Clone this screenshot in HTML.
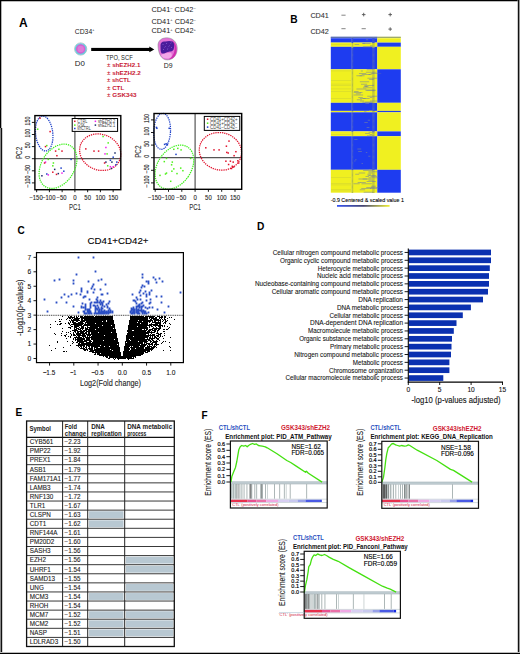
<!DOCTYPE html>
<html><head><meta charset="utf-8"><title>Figure</title>
<style>
html,body{margin:0;padding:0;background:#fff;}
body{width:520px;height:654px;overflow:hidden;}
svg{display:block;font-family:"Liberation Sans",sans-serif;}
</style></head>
<body>
<svg width="520" height="654" viewBox="0 0 520 654">
<rect x="0" y="0" width="520" height="654" fill="#fff"/>
<rect x="0" y="0" width="520" height="1" fill="#000"/>
<rect x="0" y="1" width="520" height="1" fill="#bbb"/>
<rect x="0" y="0" width="1.3" height="128" fill="#000"/>
<rect x="0" y="128" width="1" height="526" fill="#888"/>
<rect x="1" y="128" width="1.2" height="526" fill="#111"/>
<rect x="518" y="0" width="1" height="654" fill="#111"/>
<rect x="519" y="0" width="1" height="654" fill="#999"/>
<rect x="517.5" y="0" width="0.5" height="654" fill="#999"/>
<rect x="0" y="652" width="520" height="1" fill="#bbb"/>
<rect x="0" y="653" width="520" height="1" fill="#000"/>
<text x="19" y="27.3" font-size="12" font-weight="bold">A</text>
<text x="74.8" y="34.1" font-size="6.8" fill="#222">CD34<tspan font-size="3.8" dy="-2.6">+</tspan></text>
<circle cx="80.7" cy="49" r="6.1" fill="none" stroke="#6a8a90" stroke-width="0.5"/>
<circle cx="80.7" cy="49" r="5.3" fill="#d462d0" stroke="#60d0e0" stroke-width="1.1"/>
<circle cx="80.7" cy="49" r="3.2" fill="#e48ee0" opacity="0.6"/>
<text x="74.8" y="65.8" font-size="7.8" fill="#222" textLength="10.1" lengthAdjust="spacingAndGlyphs">D0</text>
<rect x="91.2" y="47.9" width="59" height="3.1" fill="#000"/>
<path d="M149.3 46.6 L154.3 49.45 L149.3 52.3 Z" fill="#000"/>
<text x="106" y="59.9" font-size="6.4" fill="#222" textLength="26.7" lengthAdjust="spacingAndGlyphs">TPO, SCF</text>
<text x="107" y="66.9" font-size="5.8" font-weight="bold" fill="#c81632" textLength="33.4" lengthAdjust="spacingAndGlyphs">± shEZH2.1</text>
<text x="107" y="74.5" font-size="5.8" font-weight="bold" fill="#c81632" textLength="33.8" lengthAdjust="spacingAndGlyphs">± shEZH2.2</text>
<text x="107" y="82.1" font-size="5.8" font-weight="bold" fill="#c81632" textLength="23.7" lengthAdjust="spacingAndGlyphs">± shCTL</text>
<text x="107" y="89.7" font-size="5.8" font-weight="bold" fill="#c81632" textLength="17.2" lengthAdjust="spacingAndGlyphs">± CTL</text>
<text x="107" y="97.3" font-size="5.8" font-weight="bold" fill="#c81632" textLength="29.6" lengthAdjust="spacingAndGlyphs">± GSK343</text>
<text x="151.4" y="11.5" font-size="7.4" fill="#222">CD41<tspan font-size="4" dy="-2.8">–</tspan><tspan dy="2.8"> CD42</tspan><tspan font-size="4" dy="-2.8">–</tspan></text>
<text x="151.4" y="23.6" font-size="7.4" fill="#222">CD41<tspan font-size="4" dy="-2.8">+</tspan><tspan dy="2.8"> CD42</tspan><tspan font-size="4" dy="-2.8">–</tspan></text>
<text x="151.4" y="33.4" font-size="7.4" fill="#222">CD41<tspan font-size="4" dy="-2.8">+</tspan><tspan dy="2.8"> CD42</tspan><tspan font-size="4" dy="-2.8">+</tspan></text>
<path d="M158 46 C157.6 41 161.5 37.8 166.5 37.8 C172 37.6 176.8 41.5 177.2 47.5 C177.6 54 174 59.8 167.5 59.9 C161.5 60 158.4 54 158 46 Z" fill="#e472d8" stroke="#7a8a88" stroke-width="0.5"/>
<path d="M171 40 C175.5 42 177 47 176.5 51.5 C176 56 173 59 168.5 59.6 C172.5 57 175 53 174.5 47 C174.2 43.5 173 41.5 171 40 Z" fill="#d030b0"/>
<path d="M161 55 C163 53.5 167 53 171 52.8 C173 55.5 171 58.6 167 58.6 C164 58.6 162 57.3 161 55 Z" fill="#f2a6e8"/>
<path d="M160.5 46 C160.2 42.5 162.5 41 165.5 41.6 C167.5 40.8 170.5 40.6 172.6 41.6 C174.6 43 174.5 47 173.6 49.6 C172.5 51.8 169.5 51.6 167 52.2 C165 53 163 54.3 161.5 53.2 C160.4 51.8 160.6 48.5 160.5 46 Z" fill="#4a1c9c"/>
<path d="M162.5 45 l1 -1 M164.5 47.5 l1.2 -1.2 M166 44 l1 -1 M168.5 46.5 l1.2 -1 M170.5 43.5 l1 -0.8 M163 50 l1 -1 M167 49.5 l1.2 -1 M171 48 l1 -1" stroke="#8a6ad8" stroke-width="0.7" fill="none"/>
<text x="163.8" y="67.5" font-size="7.8" fill="#222" textLength="8.8" lengthAdjust="spacingAndGlyphs">D9</text>
<line x1="74.9" y1="115.6" x2="74.9" y2="189.7" stroke="#555" stroke-width="1.2"/>
<line x1="34.9" y1="158.7" x2="120.8" y2="158.7" stroke="#555" stroke-width="1.2"/>
<ellipse cx="44.2" cy="133.5" rx="8.6" ry="17.5" transform="rotate(-6 44.2 133.5)" fill="none" stroke="#1c3fc8" stroke-width="1.25" stroke-dasharray="1.3 0.9"/>
<ellipse cx="58" cy="166.3" rx="16.5" ry="24" transform="rotate(32 58 166.3)" fill="none" stroke="#3cf01a" stroke-width="1.25" stroke-dasharray="1.3 0.9"/>
<ellipse cx="100.2" cy="152.2" rx="21" ry="17.8" transform="rotate(22 100.2 152.2)" fill="none" stroke="#e0102a" stroke-width="1.25" stroke-dasharray="1.3 0.9"/>
<rect x="39.25" y="117.45" width="1.5" height="1.5" fill="#e0102a"/>
<rect x="36.95" y="128.45" width="1.5" height="1.5" fill="#4ef01a"/>
<rect x="49.35" y="130.85" width="1.5" height="1.5" fill="#e0102a"/>
<rect x="46.05" y="144.85" width="1.5" height="1.5" fill="#4ef01a"/>
<rect x="44.75" y="145.85" width="1.5" height="1.5" fill="#e0102a"/>
<rect x="58.15" y="148.55" width="1.5" height="1.5" fill="#4ef01a"/>
<rect x="54.85" y="150.35" width="1.5" height="1.5" fill="#e0102a"/>
<rect x="61.25" y="150.35" width="1.5" height="1.5" fill="#e0102a"/>
<rect x="56.15" y="154.95" width="1.5" height="1.5" fill="#e0102a"/>
<rect x="70.35" y="158.65" width="1.5" height="1.5" fill="#1c3fc8"/>
<rect x="44.75" y="161.35" width="1.5" height="1.5" fill="#f020f0"/>
<rect x="43.85" y="162.25" width="1.5" height="1.5" fill="#e0102a"/>
<rect x="47.55" y="158.65" width="1.5" height="1.5" fill="#4ef01a"/>
<rect x="52.65" y="162.25" width="1.5" height="1.5" fill="#4ef01a"/>
<rect x="52.05" y="165.05" width="1.5" height="1.5" fill="#4ef01a"/>
<rect x="53.95" y="168.65" width="1.5" height="1.5" fill="#1a2a6a"/>
<rect x="60.35" y="167.35" width="1.5" height="1.5" fill="#1c3fc8"/>
<rect x="63.05" y="170.45" width="1.5" height="1.5" fill="#1c3fc8"/>
<rect x="52.05" y="171.45" width="1.5" height="1.5" fill="#e0102a"/>
<rect x="57.55" y="172.85" width="1.5" height="1.5" fill="#1a2a6a"/>
<rect x="55.75" y="173.65" width="1.5" height="1.5" fill="#e0102a"/>
<rect x="61.25" y="172.35" width="1.5" height="1.5" fill="#f020f0"/>
<rect x="46.05" y="173.25" width="1.5" height="1.5" fill="#1c3fc8"/>
<rect x="47.55" y="174.15" width="1.5" height="1.5" fill="#f020f0"/>
<rect x="41.15" y="175.05" width="1.5" height="1.5" fill="#1a2a6a"/>
<rect x="102.35" y="135.75" width="1.5" height="1.5" fill="#4ef01a"/>
<rect x="107.45" y="142.15" width="1.5" height="1.5" fill="#4ef01a"/>
<rect x="105.15" y="146.75" width="1.5" height="1.5" fill="#f020f0"/>
<rect x="85.05" y="148.15" width="1.5" height="1.5" fill="#e0102a"/>
<rect x="93.25" y="150.35" width="1.5" height="1.5" fill="#e0102a"/>
<rect x="97.85" y="150.35" width="1.5" height="1.5" fill="#e0102a"/>
<rect x="104.25" y="153.15" width="1.5" height="1.5" fill="#f020f0"/>
<rect x="106.35" y="153.15" width="1.5" height="1.5" fill="#4ef01a"/>
<rect x="114.25" y="152.25" width="1.5" height="1.5" fill="#1a2a6a"/>
<rect x="112.45" y="156.45" width="1.5" height="1.5" fill="#1c3fc8"/>
<rect x="105.15" y="161.35" width="1.5" height="1.5" fill="#1a2a6a"/>
<rect x="103.85" y="162.25" width="1.5" height="1.5" fill="#e0102a"/>
<rect x="109.65" y="159.55" width="1.5" height="1.5" fill="#1c3fc8"/>
<rect x="111.15" y="161.35" width="1.5" height="1.5" fill="#1a2a6a"/>
<rect x="116.05" y="161.35" width="1.5" height="1.5" fill="#1c3fc8"/>
<rect x="106.95" y="165.05" width="1.5" height="1.5" fill="#4ef01a"/>
<rect x="109.65" y="165.95" width="1.5" height="1.5" fill="#f020f0"/>
<rect x="112.45" y="165.95" width="1.5" height="1.5" fill="#f020f0"/>
<rect x="110.65" y="167.75" width="1.5" height="1.5" fill="#1a2a6a"/>
<rect x="115.15" y="164.05" width="1.5" height="1.5" fill="#1c3fc8"/>
<rect x="34.9" y="115.6" width="85.9" height="74.1" fill="none" stroke="#000" stroke-width="1.4"/>
<line x1="36.65" y1="189.7" x2="36.65" y2="192.2" stroke="#000" stroke-width="0.9"/>
<text x="36.05" y="200" font-size="6.4" text-anchor="middle" fill="#222" stroke="#222" stroke-width="0.1" textLength="13.3" lengthAdjust="spacingAndGlyphs">−150</text>
<line x1="49.4" y1="189.7" x2="49.4" y2="192.2" stroke="#000" stroke-width="0.9"/>
<text x="48.8" y="200" font-size="6.4" text-anchor="middle" fill="#222" stroke="#222" stroke-width="0.1" textLength="13.3" lengthAdjust="spacingAndGlyphs">−100</text>
<line x1="62.15" y1="189.7" x2="62.15" y2="192.2" stroke="#000" stroke-width="0.9"/>
<text x="61.55" y="200" font-size="6.4" text-anchor="middle" fill="#222" stroke="#222" stroke-width="0.1" textLength="10" lengthAdjust="spacingAndGlyphs">−50</text>
<line x1="74.9" y1="189.7" x2="74.9" y2="192.2" stroke="#000" stroke-width="0.9"/>
<text x="74.9" y="200" font-size="6.4" text-anchor="middle" fill="#222" stroke="#222" stroke-width="0.1" textLength="3.4" lengthAdjust="spacingAndGlyphs">0</text>
<line x1="87.65" y1="189.7" x2="87.65" y2="192.2" stroke="#000" stroke-width="0.9"/>
<text x="87.65" y="200" font-size="6.4" text-anchor="middle" fill="#222" stroke="#222" stroke-width="0.1" textLength="6.6" lengthAdjust="spacingAndGlyphs">50</text>
<line x1="100.4" y1="189.7" x2="100.4" y2="192.2" stroke="#000" stroke-width="0.9"/>
<text x="100.4" y="200" font-size="6.4" text-anchor="middle" fill="#222" stroke="#222" stroke-width="0.1" textLength="10" lengthAdjust="spacingAndGlyphs">100</text>
<line x1="113.15" y1="189.7" x2="113.15" y2="192.2" stroke="#000" stroke-width="0.9"/>
<text x="113.15" y="200" font-size="6.4" text-anchor="middle" fill="#222" stroke="#222" stroke-width="0.1" textLength="10" lengthAdjust="spacingAndGlyphs">150</text>
<line x1="31.9" y1="182.9" x2="34.9" y2="182.9" stroke="#000" stroke-width="0.9"/>
<text transform="translate(29.8 181.5) rotate(-90)" x="0" y="0" font-size="6.5" text-anchor="middle" fill="#222" stroke="#222" stroke-width="0.1" textLength="11.8" lengthAdjust="spacingAndGlyphs">−100</text>
<line x1="31.9" y1="170.8" x2="34.9" y2="170.8" stroke="#000" stroke-width="0.9"/>
<text transform="translate(29.8 169.4) rotate(-90)" x="0" y="0" font-size="6.5" text-anchor="middle" fill="#222" stroke="#222" stroke-width="0.1" textLength="8.85" lengthAdjust="spacingAndGlyphs">−50</text>
<line x1="31.9" y1="158.7" x2="34.9" y2="158.7" stroke="#000" stroke-width="0.9"/>
<text transform="translate(29.8 157.3) rotate(-90)" x="0" y="0" font-size="6.5" text-anchor="middle" fill="#222" stroke="#222" stroke-width="0.1" textLength="2.95" lengthAdjust="spacingAndGlyphs">0</text>
<line x1="31.9" y1="146.6" x2="34.9" y2="146.6" stroke="#000" stroke-width="0.9"/>
<text transform="translate(29.8 145.2) rotate(-90)" x="0" y="0" font-size="6.5" text-anchor="middle" fill="#222" stroke="#222" stroke-width="0.1" textLength="5.9" lengthAdjust="spacingAndGlyphs">50</text>
<line x1="31.9" y1="134.5" x2="34.9" y2="134.5" stroke="#000" stroke-width="0.9"/>
<text transform="translate(29.8 133.1) rotate(-90)" x="0" y="0" font-size="6.5" text-anchor="middle" fill="#222" stroke="#222" stroke-width="0.1" textLength="8.85" lengthAdjust="spacingAndGlyphs">100</text>
<line x1="31.9" y1="122.4" x2="34.9" y2="122.4" stroke="#000" stroke-width="0.9"/>
<text transform="translate(29.8 121) rotate(-90)" x="0" y="0" font-size="6.5" text-anchor="middle" fill="#222" stroke="#222" stroke-width="0.1" textLength="8.85" lengthAdjust="spacingAndGlyphs">150</text>
<text x="74.9" y="209.5" font-size="9.6" text-anchor="middle" fill="#333" stroke="#333" stroke-width="0.1" textLength="11.8" lengthAdjust="spacingAndGlyphs">PC1</text>
<text transform="translate(22.2 152.95) rotate(-90)" x="0" y="0" font-size="9.8" text-anchor="middle" fill="#333" stroke="#333" stroke-width="0.1" textLength="12.3" lengthAdjust="spacingAndGlyphs">PC2</text>
<rect x="72.2" y="118.5" width="45.4" height="12.9" fill="#fff" stroke="#000" stroke-width="1"/>
<rect x="74.05" y="120.55" width="1.5" height="1.5" fill="#e0102a"/>
<text x="77.3" y="122.9" font-size="4.6" fill="#444" textLength="10" lengthAdjust="spacingAndGlyphs">CTRL</text>
<rect x="74.05" y="124.35" width="1.5" height="1.5" fill="#4ef01a"/>
<text x="77.3" y="126.7" font-size="4.6" fill="#444" textLength="7.7" lengthAdjust="spacingAndGlyphs">GSK</text>
<rect x="74.05" y="127.75" width="1.5" height="1.5" fill="#1c3fc8"/>
<text x="77.3" y="130.1" font-size="4.6" fill="#444" textLength="13.5" lengthAdjust="spacingAndGlyphs">shCTRL</text>
<rect x="94.65" y="120.55" width="1.5" height="1.5" fill="#f020f0"/>
<text x="97.9" y="122.9" font-size="4.6" fill="#444" textLength="17.3" lengthAdjust="spacingAndGlyphs">shEZH2.2</text>
<rect x="94.65" y="124.35" width="1.5" height="1.5" fill="#1a2a6a"/>
<text x="97.9" y="126.7" font-size="4.6" fill="#444" textLength="17.3" lengthAdjust="spacingAndGlyphs">shEZH2.1</text>
<line x1="195.1" y1="113.5" x2="195.1" y2="189.3" stroke="#555" stroke-width="1.2"/>
<line x1="154" y1="157.7" x2="241.7" y2="157.7" stroke="#555" stroke-width="1.2"/>
<ellipse cx="162.1" cy="131.3" rx="8.4" ry="18" transform="rotate(3 162.1 131.3)" fill="none" stroke="#1c3fc8" stroke-width="1.25" stroke-dasharray="1.3 0.9"/>
<ellipse cx="174.4" cy="167.1" rx="16.8" ry="24" transform="rotate(34 174.4 167.1)" fill="none" stroke="#3cf01a" stroke-width="1.25" stroke-dasharray="1.3 0.9"/>
<ellipse cx="220.4" cy="151.3" rx="21.3" ry="18.6" transform="rotate(15 220.4 151.3)" fill="none" stroke="#e0102a" stroke-width="1.25" stroke-dasharray="1.3 0.9"/>
<rect x="155.65" y="126.65" width="1.5" height="1.5" fill="#1c3fc8"/>
<rect x="156.15" y="127.55" width="1.5" height="1.5" fill="#1c3fc8"/>
<rect x="168.45" y="127.55" width="1.5" height="1.5" fill="#1c3fc8"/>
<rect x="163.85" y="143.65" width="1.5" height="1.5" fill="#1c3fc8"/>
<rect x="165.35" y="143.05" width="1.5" height="1.5" fill="#1c3fc8"/>
<rect x="166.65" y="143.95" width="1.5" height="1.5" fill="#1c3fc8"/>
<rect x="175.25" y="153.65" width="1.5" height="1.5" fill="#1c3fc8"/>
<rect x="173.05" y="148.55" width="1.5" height="1.5" fill="#4ef01a"/>
<rect x="177.05" y="147.65" width="1.5" height="1.5" fill="#4ef01a"/>
<rect x="180.35" y="149.15" width="1.5" height="1.5" fill="#4ef01a"/>
<rect x="165.75" y="157.65" width="1.5" height="1.5" fill="#4ef01a"/>
<rect x="163.55" y="160.85" width="1.5" height="1.5" fill="#4ef01a"/>
<rect x="171.55" y="161.35" width="1.5" height="1.5" fill="#4ef01a"/>
<rect x="170.85" y="164.05" width="1.5" height="1.5" fill="#4ef01a"/>
<rect x="173.05" y="168.15" width="1.5" height="1.5" fill="#4ef01a"/>
<rect x="171.15" y="170.45" width="1.5" height="1.5" fill="#4ef01a"/>
<rect x="165.75" y="172.35" width="1.5" height="1.5" fill="#4ef01a"/>
<rect x="159.25" y="174.65" width="1.5" height="1.5" fill="#4ef01a"/>
<rect x="176.25" y="172.85" width="1.5" height="1.5" fill="#4ef01a"/>
<rect x="179.95" y="167.35" width="1.5" height="1.5" fill="#4ef01a"/>
<rect x="182.15" y="169.95" width="1.5" height="1.5" fill="#4ef01a"/>
<rect x="169.95" y="180.55" width="1.5" height="1.5" fill="#4ef01a"/>
<rect x="189.85" y="157.65" width="1.5" height="1.5" fill="#4ef01a"/>
<rect x="164.75" y="173.25" width="1.5" height="1.5" fill="#4ef01a"/>
<rect x="205.05" y="147.05" width="1.5" height="1.5" fill="#e0102a"/>
<rect x="213.25" y="149.15" width="1.5" height="1.5" fill="#e0102a"/>
<rect x="218.35" y="149.15" width="1.5" height="1.5" fill="#e0102a"/>
<rect x="228.25" y="140.35" width="1.5" height="1.5" fill="#e0102a"/>
<rect x="225.65" y="145.45" width="1.5" height="1.5" fill="#e0102a"/>
<rect x="226.05" y="151.65" width="1.5" height="1.5" fill="#e0102a"/>
<rect x="227.45" y="152.25" width="1.5" height="1.5" fill="#e0102a"/>
<rect x="235.15" y="150.95" width="1.5" height="1.5" fill="#e0102a"/>
<rect x="233.35" y="154.95" width="1.5" height="1.5" fill="#e0102a"/>
<rect x="225.15" y="160.45" width="1.5" height="1.5" fill="#e0102a"/>
<rect x="229.65" y="160.45" width="1.5" height="1.5" fill="#e0102a"/>
<rect x="232.45" y="161.35" width="1.5" height="1.5" fill="#e0102a"/>
<rect x="237.05" y="160.05" width="1.5" height="1.5" fill="#e0102a"/>
<rect x="227.85" y="163.75" width="1.5" height="1.5" fill="#e0102a"/>
<rect x="231.55" y="165.55" width="1.5" height="1.5" fill="#e0102a"/>
<rect x="232.95" y="166.25" width="1.5" height="1.5" fill="#e0102a"/>
<rect x="237.95" y="162.25" width="1.5" height="1.5" fill="#e0102a"/>
<rect x="230.75" y="167.75" width="1.5" height="1.5" fill="#e0102a"/>
<rect x="154" y="113.5" width="87.7" height="75.8" fill="none" stroke="#000" stroke-width="1.4"/>
<line x1="155.2" y1="189.3" x2="155.2" y2="191.8" stroke="#000" stroke-width="0.9"/>
<text x="154.6" y="200" font-size="6.4" text-anchor="middle" fill="#222" stroke="#222" stroke-width="0.1" textLength="13.3" lengthAdjust="spacingAndGlyphs">−150</text>
<line x1="168.5" y1="189.3" x2="168.5" y2="191.8" stroke="#000" stroke-width="0.9"/>
<text x="167.9" y="200" font-size="6.4" text-anchor="middle" fill="#222" stroke="#222" stroke-width="0.1" textLength="13.3" lengthAdjust="spacingAndGlyphs">−100</text>
<line x1="181.8" y1="189.3" x2="181.8" y2="191.8" stroke="#000" stroke-width="0.9"/>
<text x="181.2" y="200" font-size="6.4" text-anchor="middle" fill="#222" stroke="#222" stroke-width="0.1" textLength="10" lengthAdjust="spacingAndGlyphs">−50</text>
<line x1="195.1" y1="189.3" x2="195.1" y2="191.8" stroke="#000" stroke-width="0.9"/>
<text x="195.1" y="200" font-size="6.4" text-anchor="middle" fill="#222" stroke="#222" stroke-width="0.1" textLength="3.4" lengthAdjust="spacingAndGlyphs">0</text>
<line x1="208.4" y1="189.3" x2="208.4" y2="191.8" stroke="#000" stroke-width="0.9"/>
<text x="208.4" y="200" font-size="6.4" text-anchor="middle" fill="#222" stroke="#222" stroke-width="0.1" textLength="6.6" lengthAdjust="spacingAndGlyphs">50</text>
<line x1="221.7" y1="189.3" x2="221.7" y2="191.8" stroke="#000" stroke-width="0.9"/>
<text x="221.7" y="200" font-size="6.4" text-anchor="middle" fill="#222" stroke="#222" stroke-width="0.1" textLength="10" lengthAdjust="spacingAndGlyphs">100</text>
<line x1="235" y1="189.3" x2="235" y2="191.8" stroke="#000" stroke-width="0.9"/>
<text x="235" y="200" font-size="6.4" text-anchor="middle" fill="#222" stroke="#222" stroke-width="0.1" textLength="10" lengthAdjust="spacingAndGlyphs">150</text>
<line x1="151" y1="182.9" x2="154" y2="182.9" stroke="#000" stroke-width="0.9"/>
<text transform="translate(148.9 181.5) rotate(-90)" x="0" y="0" font-size="6.5" text-anchor="middle" fill="#222" stroke="#222" stroke-width="0.1" textLength="11.8" lengthAdjust="spacingAndGlyphs">−100</text>
<line x1="151" y1="170.3" x2="154" y2="170.3" stroke="#000" stroke-width="0.9"/>
<text transform="translate(148.9 168.9) rotate(-90)" x="0" y="0" font-size="6.5" text-anchor="middle" fill="#222" stroke="#222" stroke-width="0.1" textLength="8.85" lengthAdjust="spacingAndGlyphs">−50</text>
<line x1="151" y1="157.7" x2="154" y2="157.7" stroke="#000" stroke-width="0.9"/>
<text transform="translate(148.9 156.3) rotate(-90)" x="0" y="0" font-size="6.5" text-anchor="middle" fill="#222" stroke="#222" stroke-width="0.1" textLength="2.95" lengthAdjust="spacingAndGlyphs">0</text>
<line x1="151" y1="145.1" x2="154" y2="145.1" stroke="#000" stroke-width="0.9"/>
<text transform="translate(148.9 143.7) rotate(-90)" x="0" y="0" font-size="6.5" text-anchor="middle" fill="#222" stroke="#222" stroke-width="0.1" textLength="5.9" lengthAdjust="spacingAndGlyphs">50</text>
<line x1="151" y1="132.5" x2="154" y2="132.5" stroke="#000" stroke-width="0.9"/>
<text transform="translate(148.9 131.1) rotate(-90)" x="0" y="0" font-size="6.5" text-anchor="middle" fill="#222" stroke="#222" stroke-width="0.1" textLength="8.85" lengthAdjust="spacingAndGlyphs">100</text>
<line x1="151" y1="119.9" x2="154" y2="119.9" stroke="#000" stroke-width="0.9"/>
<text transform="translate(148.9 118.5) rotate(-90)" x="0" y="0" font-size="6.5" text-anchor="middle" fill="#222" stroke="#222" stroke-width="0.1" textLength="8.85" lengthAdjust="spacingAndGlyphs">150</text>
<text x="195.1" y="209.5" font-size="9.6" text-anchor="middle" fill="#333" stroke="#333" stroke-width="0.1" textLength="11.8" lengthAdjust="spacingAndGlyphs">PC1</text>
<text transform="translate(140.8 151.7) rotate(-90)" x="0" y="0" font-size="9.8" text-anchor="middle" fill="#333" stroke="#333" stroke-width="0.1" textLength="12.3" lengthAdjust="spacingAndGlyphs">PC2</text>
<rect x="204.3" y="116.4" width="35.5" height="14" fill="#fff" stroke="#000" stroke-width="1"/>
<rect x="206.85" y="118.45" width="1.5" height="1.5" fill="#e0102a"/>
<text x="210.1" y="120.8" font-size="5" fill="#444" textLength="27.5" lengthAdjust="spacingAndGlyphs">CD41+CD42+</text>
<rect x="206.85" y="122.45" width="1.5" height="1.5" fill="#4ef01a"/>
<text x="210.1" y="124.8" font-size="5" fill="#444" textLength="27.5" lengthAdjust="spacingAndGlyphs">CD41+CD42−</text>
<rect x="206.85" y="126.35" width="1.5" height="1.5" fill="#1c3fc8"/>
<text x="210.1" y="128.7" font-size="5" fill="#444" textLength="27.5" lengthAdjust="spacingAndGlyphs">CD41−CD42−</text>
<text x="290.2" y="23.3" font-size="10.2" font-weight="bold">B</text>
<text x="310.4" y="18.2" font-size="8" fill="#333" stroke="#333" stroke-width="0.1" textLength="18.4" lengthAdjust="spacingAndGlyphs">CD41</text>
<text x="310.4" y="34" font-size="8" fill="#333" stroke="#333" stroke-width="0.1" textLength="18.4" lengthAdjust="spacingAndGlyphs">CD42</text>
<line x1="341.4" y1="15.2" x2="345.6" y2="15.2" stroke="#777" stroke-width="0.9"/>
<line x1="361.9" y1="14.6" x2="365.5" y2="14.6" stroke="#555" stroke-width="0.9"/>
<line x1="363.7" y1="12.8" x2="363.7" y2="16.4" stroke="#555" stroke-width="0.9"/>
<line x1="388.4" y1="14.6" x2="392" y2="14.6" stroke="#555" stroke-width="0.9"/>
<line x1="390.2" y1="12.8" x2="390.2" y2="16.4" stroke="#555" stroke-width="0.9"/>
<line x1="341.4" y1="28.7" x2="345.6" y2="28.7" stroke="#777" stroke-width="0.9"/>
<line x1="361.6" y1="28.7" x2="365.8" y2="28.7" stroke="#777" stroke-width="0.9"/>
<line x1="388.4" y1="29.1" x2="392" y2="29.1" stroke="#555" stroke-width="0.9"/>
<line x1="390.2" y1="27.3" x2="390.2" y2="30.9" stroke="#555" stroke-width="0.9"/>
<rect x="330.8" y="36.8" width="20.4" height="1.5" fill="#1e3cf0"/>
<rect x="351.2" y="36.8" width="26.1" height="1.5" fill="#1e3cf0"/>
<rect x="377.3" y="36.8" width="23.5" height="1.5" fill="#f0f020"/>
<rect x="330.8" y="38.3" width="20.4" height="4.3" fill="#1e3cf0"/>
<rect x="351.2" y="38.3" width="26.1" height="4.3" fill="#1e3cf0"/>
<rect x="377.3" y="38.3" width="23.5" height="4.3" fill="#f0f020"/>
<rect x="330.8" y="42.6" width="20.4" height="4.2" fill="#f0f020"/>
<rect x="351.2" y="42.6" width="26.1" height="4.2" fill="#f0f020"/>
<rect x="377.3" y="42.6" width="23.5" height="4.2" fill="#1e3cf0"/>
<rect x="330.8" y="46.8" width="20.4" height="22.5" fill="#1e3cf0"/>
<rect x="351.2" y="46.8" width="26.1" height="22.5" fill="#1e3cf0"/>
<rect x="377.3" y="46.8" width="23.5" height="22.5" fill="#f0f020"/>
<rect x="330.8" y="69.3" width="20.4" height="33.5" fill="#f0f020"/>
<rect x="351.2" y="69.3" width="26.1" height="33.5" fill="#f0f020"/>
<rect x="377.3" y="69.3" width="23.5" height="33.5" fill="#1e3cf0"/>
<rect x="330.8" y="102.8" width="20.4" height="8.1" fill="#1e3cf0"/>
<rect x="351.2" y="102.8" width="26.1" height="8.1" fill="#1e3cf0"/>
<rect x="377.3" y="102.8" width="23.5" height="8.1" fill="#f0f020"/>
<rect x="330.8" y="110.9" width="20.4" height="1.4" fill="#f0f020"/>
<rect x="351.2" y="110.9" width="26.1" height="1.4" fill="#f0f020"/>
<rect x="377.3" y="110.9" width="23.5" height="1.4" fill="#1e3cf0"/>
<rect x="330.8" y="112.3" width="20.4" height="19.1" fill="#1e3cf0"/>
<rect x="351.2" y="112.3" width="26.1" height="19.1" fill="#1e3cf0"/>
<rect x="377.3" y="112.3" width="23.5" height="19.1" fill="#f0f020"/>
<rect x="330.8" y="131.4" width="20.4" height="4.8" fill="#f0f020"/>
<rect x="351.2" y="131.4" width="26.1" height="4.8" fill="#f0f020"/>
<rect x="377.3" y="131.4" width="23.5" height="4.8" fill="#1e3cf0"/>
<rect x="330.8" y="136.2" width="20.4" height="33.6" fill="#1e3cf0"/>
<rect x="351.2" y="136.2" width="26.1" height="33.6" fill="#1e3cf0"/>
<rect x="377.3" y="136.2" width="23.5" height="33.6" fill="#f0f020"/>
<rect x="330.8" y="169.8" width="20.4" height="22.9" fill="#f0f020"/>
<rect x="351.2" y="169.8" width="26.1" height="22.9" fill="#f0f020"/>
<rect x="377.3" y="169.8" width="23.5" height="22.9" fill="#1e3cf0"/>
<rect x="351.6" y="37" width="1.6" height="1.2" fill="#4058d0"/>
<rect x="372.2" y="37" width="2.4" height="1.2" fill="#4058d0"/>
<rect x="351.6" y="38.2" width="1.6" height="1.2" fill="#4058d0"/>
<rect x="372.2" y="38.2" width="2.4" height="1.2" fill="#4058d0"/>
<rect x="351.6" y="39.4" width="1.6" height="1.2" fill="#4058d0"/>
<rect x="372.2" y="39.4" width="2.4" height="1.2" fill="#4058d0"/>
<rect x="365.88" y="39.4" width="2.32" height="0.8" fill="#b0b070" opacity="0.45"/>
<rect x="351.6" y="40.6" width="1.6" height="1.2" fill="#4058d0"/>
<rect x="372.2" y="40.6" width="2.4" height="1.2" fill="#4058d0"/>
<rect x="351.6" y="41.8" width="1.6" height="1.2" fill="#4058d0"/>
<rect x="372.2" y="41.8" width="2.4" height="1.2" fill="#4058d0"/>
<rect x="351.6" y="43" width="1.6" height="1.2" fill="#b8c040"/>
<rect x="372.2" y="43" width="2.4" height="1.2" fill="#b8c040"/>
<rect x="362.42" y="43" width="2.65" height="0.8" fill="#5868b8" opacity="0.55"/>
<rect x="362.4" y="43" width="8.11" height="0.8" fill="#5868b8" opacity="0.55"/>
<rect x="351.6" y="44.2" width="1.6" height="1.2" fill="#b8c040"/>
<rect x="372.2" y="44.2" width="2.4" height="1.2" fill="#b8c040"/>
<rect x="354.59" y="44.2" width="4.59" height="0.8" fill="#5868b8" opacity="0.55"/>
<rect x="331" y="44.2" width="20" height="0.6" fill="#a0a850" opacity="0.35"/>
<rect x="351.6" y="45.4" width="1.6" height="1.2" fill="#b8c040"/>
<rect x="372.2" y="45.4" width="2.4" height="1.2" fill="#b8c040"/>
<rect x="370.16" y="45.4" width="2.22" height="0.8" fill="#5868b8" opacity="0.55"/>
<rect x="351.6" y="46.6" width="1.6" height="1.2" fill="#b8c040"/>
<rect x="372.2" y="46.6" width="2.4" height="1.2" fill="#b8c040"/>
<rect x="363.27" y="46.6" width="10.18" height="0.8" fill="#5868b8" opacity="0.55"/>
<rect x="362.82" y="46.6" width="8.75" height="0.8" fill="#5868b8" opacity="0.55"/>
<rect x="351.6" y="47.8" width="1.6" height="1.2" fill="#4058d0"/>
<rect x="372.2" y="47.8" width="2.4" height="1.2" fill="#4058d0"/>
<rect x="351.6" y="49" width="1.6" height="1.2" fill="#4058d0"/>
<rect x="372.2" y="49" width="2.4" height="1.2" fill="#4058d0"/>
<rect x="351.6" y="50.2" width="1.6" height="1.2" fill="#4058d0"/>
<rect x="372.2" y="50.2" width="2.4" height="1.2" fill="#4058d0"/>
<rect x="351.6" y="51.4" width="1.6" height="1.2" fill="#4058d0"/>
<rect x="372.2" y="51.4" width="2.4" height="1.2" fill="#4058d0"/>
<rect x="351.6" y="52.6" width="1.6" height="1.2" fill="#4058d0"/>
<rect x="372.2" y="52.6" width="2.4" height="1.2" fill="#4058d0"/>
<rect x="351.6" y="53.8" width="1.6" height="1.2" fill="#4058d0"/>
<rect x="372.2" y="53.8" width="2.4" height="1.2" fill="#4058d0"/>
<rect x="351.6" y="55" width="1.6" height="1.2" fill="#4058d0"/>
<rect x="372.2" y="55" width="2.4" height="1.2" fill="#4058d0"/>
<rect x="351.6" y="56.2" width="1.6" height="1.2" fill="#4058d0"/>
<rect x="372.2" y="56.2" width="2.4" height="1.2" fill="#4058d0"/>
<rect x="351.6" y="57.4" width="1.6" height="1.2" fill="#4058d0"/>
<rect x="372.2" y="57.4" width="2.4" height="1.2" fill="#4058d0"/>
<rect x="351.6" y="58.6" width="1.6" height="1.2" fill="#4058d0"/>
<rect x="372.2" y="58.6" width="2.4" height="1.2" fill="#4058d0"/>
<rect x="351.6" y="59.8" width="1.6" height="1.2" fill="#4058d0"/>
<rect x="372.2" y="59.8" width="2.4" height="1.2" fill="#4058d0"/>
<rect x="351.6" y="61" width="1.6" height="1.2" fill="#4058d0"/>
<rect x="372.2" y="61" width="2.4" height="1.2" fill="#4058d0"/>
<rect x="351.6" y="62.2" width="1.6" height="1.2" fill="#4058d0"/>
<rect x="372.2" y="62.2" width="2.4" height="1.2" fill="#4058d0"/>
<rect x="351.6" y="63.4" width="1.6" height="1.2" fill="#4058d0"/>
<rect x="372.2" y="63.4" width="2.4" height="1.2" fill="#4058d0"/>
<rect x="351.6" y="64.6" width="1.6" height="1.2" fill="#4058d0"/>
<rect x="372.2" y="64.6" width="2.4" height="1.2" fill="#4058d0"/>
<rect x="351.6" y="65.8" width="1.6" height="1.2" fill="#4058d0"/>
<rect x="372.2" y="65.8" width="2.4" height="1.2" fill="#4058d0"/>
<rect x="351.6" y="67" width="1.6" height="1.2" fill="#4058d0"/>
<rect x="372.2" y="67" width="2.4" height="1.2" fill="#4058d0"/>
<rect x="351.6" y="68.2" width="1.6" height="1.2" fill="#4058d0"/>
<rect x="372.2" y="68.2" width="2.4" height="1.2" fill="#4058d0"/>
<rect x="351.6" y="69.4" width="1.6" height="1.2" fill="#b8c040"/>
<rect x="372.2" y="69.4" width="2.4" height="1.2" fill="#b8c040"/>
<rect x="366.74" y="69.4" width="5.8" height="0.8" fill="#5868b8" opacity="0.55"/>
<rect x="351.6" y="70.6" width="1.6" height="1.2" fill="#b8c040"/>
<rect x="372.2" y="70.6" width="2.4" height="1.2" fill="#b8c040"/>
<rect x="360.87" y="70.6" width="2.01" height="0.8" fill="#5868b8" opacity="0.55"/>
<rect x="331" y="70.6" width="20" height="0.6" fill="#a0a850" opacity="0.35"/>
<rect x="351.6" y="71.8" width="1.6" height="1.2" fill="#b8c040"/>
<rect x="372.2" y="71.8" width="2.4" height="1.2" fill="#b8c040"/>
<rect x="365.93" y="71.8" width="10.6" height="0.8" fill="#5868b8" opacity="0.55"/>
<rect x="351.6" y="73" width="1.6" height="1.2" fill="#b8c040"/>
<rect x="372.2" y="73" width="2.4" height="1.2" fill="#b8c040"/>
<rect x="358.96" y="73" width="7.33" height="0.8" fill="#5868b8" opacity="0.55"/>
<rect x="370.77" y="73" width="10.51" height="0.8" fill="#5868b8" opacity="0.55"/>
<rect x="351.6" y="74.2" width="1.6" height="1.2" fill="#b8c040"/>
<rect x="372.2" y="74.2" width="2.4" height="1.2" fill="#b8c040"/>
<rect x="368.55" y="74.2" width="3.18" height="0.8" fill="#5868b8" opacity="0.55"/>
<rect x="361.73" y="74.2" width="8.68" height="0.8" fill="#5868b8" opacity="0.55"/>
<rect x="351.6" y="75.4" width="1.6" height="1.2" fill="#b8c040"/>
<rect x="372.2" y="75.4" width="2.4" height="1.2" fill="#b8c040"/>
<rect x="359.58" y="75.4" width="4.92" height="0.8" fill="#5868b8" opacity="0.55"/>
<rect x="356.38" y="75.4" width="5.73" height="0.8" fill="#5868b8" opacity="0.55"/>
<rect x="351.6" y="76.6" width="1.6" height="1.2" fill="#b8c040"/>
<rect x="372.2" y="76.6" width="2.4" height="1.2" fill="#b8c040"/>
<rect x="351.6" y="77.8" width="1.6" height="1.2" fill="#b8c040"/>
<rect x="372.2" y="77.8" width="2.4" height="1.2" fill="#b8c040"/>
<rect x="367.41" y="77.8" width="9.99" height="0.8" fill="#5868b8" opacity="0.55"/>
<rect x="351.6" y="79" width="1.6" height="1.2" fill="#b8c040"/>
<rect x="372.2" y="79" width="2.4" height="1.2" fill="#b8c040"/>
<rect x="369.16" y="79" width="4.49" height="0.8" fill="#5868b8" opacity="0.55"/>
<rect x="351.6" y="80.2" width="1.6" height="1.2" fill="#b8c040"/>
<rect x="372.2" y="80.2" width="2.4" height="1.2" fill="#b8c040"/>
<rect x="331" y="80.2" width="20" height="0.6" fill="#a0a850" opacity="0.35"/>
<rect x="351.6" y="81.4" width="1.6" height="1.2" fill="#b8c040"/>
<rect x="372.2" y="81.4" width="2.4" height="1.2" fill="#b8c040"/>
<rect x="359.83" y="81.4" width="9.32" height="0.8" fill="#5868b8" opacity="0.55"/>
<rect x="351.6" y="82.6" width="1.6" height="1.2" fill="#b8c040"/>
<rect x="372.2" y="82.6" width="2.4" height="1.2" fill="#b8c040"/>
<rect x="351.6" y="83.8" width="1.6" height="1.2" fill="#b8c040"/>
<rect x="372.2" y="83.8" width="2.4" height="1.2" fill="#b8c040"/>
<rect x="360.96" y="83.8" width="6.17" height="0.8" fill="#5868b8" opacity="0.55"/>
<rect x="331" y="83.8" width="20" height="0.6" fill="#a0a850" opacity="0.35"/>
<rect x="351.6" y="85" width="1.6" height="1.2" fill="#b8c040"/>
<rect x="372.2" y="85" width="2.4" height="1.2" fill="#b8c040"/>
<rect x="364.34" y="85" width="9.46" height="0.8" fill="#5868b8" opacity="0.55"/>
<rect x="331" y="85" width="20" height="0.6" fill="#a0a850" opacity="0.35"/>
<rect x="351.6" y="86.2" width="1.6" height="1.2" fill="#b8c040"/>
<rect x="372.2" y="86.2" width="2.4" height="1.2" fill="#b8c040"/>
<rect x="365.26" y="86.2" width="3.19" height="0.8" fill="#5868b8" opacity="0.55"/>
<rect x="363.75" y="86.2" width="3.53" height="0.8" fill="#5868b8" opacity="0.55"/>
<rect x="351.6" y="87.4" width="1.6" height="1.2" fill="#b8c040"/>
<rect x="372.2" y="87.4" width="2.4" height="1.2" fill="#b8c040"/>
<rect x="362.99" y="87.4" width="9.17" height="0.8" fill="#5868b8" opacity="0.55"/>
<rect x="351.6" y="88.6" width="1.6" height="1.2" fill="#b8c040"/>
<rect x="372.2" y="88.6" width="2.4" height="1.2" fill="#b8c040"/>
<rect x="356.44" y="88.6" width="9.89" height="0.8" fill="#5868b8" opacity="0.55"/>
<rect x="331" y="88.6" width="20" height="0.6" fill="#a0a850" opacity="0.35"/>
<rect x="351.6" y="89.8" width="1.6" height="1.2" fill="#b8c040"/>
<rect x="372.2" y="89.8" width="2.4" height="1.2" fill="#b8c040"/>
<rect x="366.35" y="89.8" width="9.61" height="0.8" fill="#5868b8" opacity="0.55"/>
<rect x="365.37" y="89.8" width="9.27" height="0.8" fill="#5868b8" opacity="0.55"/>
<rect x="351.6" y="91" width="1.6" height="1.2" fill="#b8c040"/>
<rect x="372.2" y="91" width="2.4" height="1.2" fill="#b8c040"/>
<rect x="354.04" y="91" width="4.53" height="0.8" fill="#5868b8" opacity="0.55"/>
<rect x="331" y="91" width="20" height="0.6" fill="#a0a850" opacity="0.35"/>
<rect x="351.6" y="92.2" width="1.6" height="1.2" fill="#b8c040"/>
<rect x="372.2" y="92.2" width="2.4" height="1.2" fill="#b8c040"/>
<rect x="359.91" y="92.2" width="2.57" height="0.8" fill="#5868b8" opacity="0.55"/>
<rect x="353.82" y="92.2" width="6.72" height="0.8" fill="#5868b8" opacity="0.55"/>
<rect x="351.6" y="93.4" width="1.6" height="1.2" fill="#b8c040"/>
<rect x="372.2" y="93.4" width="2.4" height="1.2" fill="#b8c040"/>
<rect x="355.82" y="93.4" width="4.98" height="0.8" fill="#5868b8" opacity="0.55"/>
<rect x="351.6" y="94.6" width="1.6" height="1.2" fill="#b8c040"/>
<rect x="372.2" y="94.6" width="2.4" height="1.2" fill="#b8c040"/>
<rect x="353.59" y="94.6" width="9.48" height="0.8" fill="#5868b8" opacity="0.55"/>
<rect x="351.6" y="95.8" width="1.6" height="1.2" fill="#b8c040"/>
<rect x="372.2" y="95.8" width="2.4" height="1.2" fill="#b8c040"/>
<rect x="367.29" y="95.8" width="9.8" height="0.8" fill="#5868b8" opacity="0.55"/>
<rect x="351.6" y="97" width="1.6" height="1.2" fill="#b8c040"/>
<rect x="372.2" y="97" width="2.4" height="1.2" fill="#b8c040"/>
<rect x="358.29" y="97" width="4.49" height="0.8" fill="#5868b8" opacity="0.55"/>
<rect x="369.79" y="97" width="2.27" height="0.8" fill="#5868b8" opacity="0.55"/>
<rect x="351.6" y="98.2" width="1.6" height="1.2" fill="#b8c040"/>
<rect x="372.2" y="98.2" width="2.4" height="1.2" fill="#b8c040"/>
<rect x="359.89" y="98.2" width="5.76" height="0.8" fill="#5868b8" opacity="0.55"/>
<rect x="362.78" y="98.2" width="6.81" height="0.8" fill="#5868b8" opacity="0.55"/>
<rect x="331" y="98.2" width="20" height="0.6" fill="#a0a850" opacity="0.35"/>
<rect x="351.6" y="99.4" width="1.6" height="1.2" fill="#b8c040"/>
<rect x="372.2" y="99.4" width="2.4" height="1.2" fill="#b8c040"/>
<rect x="356.87" y="99.4" width="5.19" height="0.8" fill="#5868b8" opacity="0.55"/>
<rect x="351.6" y="100.6" width="1.6" height="1.2" fill="#b8c040"/>
<rect x="372.2" y="100.6" width="2.4" height="1.2" fill="#b8c040"/>
<rect x="369.94" y="100.6" width="9.45" height="0.8" fill="#5868b8" opacity="0.55"/>
<rect x="360.05" y="100.6" width="4.09" height="0.8" fill="#5868b8" opacity="0.55"/>
<rect x="351.6" y="101.8" width="1.6" height="1.2" fill="#b8c040"/>
<rect x="372.2" y="101.8" width="2.4" height="1.2" fill="#b8c040"/>
<rect x="362.43" y="101.8" width="10.3" height="0.8" fill="#5868b8" opacity="0.55"/>
<rect x="365.1" y="101.8" width="7.36" height="0.8" fill="#5868b8" opacity="0.55"/>
<rect x="351.6" y="103" width="1.6" height="1.2" fill="#4058d0"/>
<rect x="372.2" y="103" width="2.4" height="1.2" fill="#4058d0"/>
<rect x="365.32" y="103" width="3.84" height="0.8" fill="#b0b070" opacity="0.45"/>
<rect x="351.6" y="104.2" width="1.6" height="1.2" fill="#4058d0"/>
<rect x="372.2" y="104.2" width="2.4" height="1.2" fill="#4058d0"/>
<rect x="351.6" y="105.4" width="1.6" height="1.2" fill="#4058d0"/>
<rect x="372.2" y="105.4" width="2.4" height="1.2" fill="#4058d0"/>
<rect x="351.6" y="106.6" width="1.6" height="1.2" fill="#4058d0"/>
<rect x="372.2" y="106.6" width="2.4" height="1.2" fill="#4058d0"/>
<rect x="351.6" y="107.8" width="1.6" height="1.2" fill="#4058d0"/>
<rect x="372.2" y="107.8" width="2.4" height="1.2" fill="#4058d0"/>
<rect x="351.6" y="109" width="1.6" height="1.2" fill="#4058d0"/>
<rect x="372.2" y="109" width="2.4" height="1.2" fill="#4058d0"/>
<rect x="351.6" y="110.2" width="1.6" height="1.2" fill="#4058d0"/>
<rect x="372.2" y="110.2" width="2.4" height="1.2" fill="#4058d0"/>
<rect x="368.98" y="110.2" width="3.87" height="0.8" fill="#b0b070" opacity="0.45"/>
<rect x="351.6" y="111.4" width="1.6" height="1.2" fill="#b8c040"/>
<rect x="372.2" y="111.4" width="2.4" height="1.2" fill="#b8c040"/>
<rect x="364.09" y="111.4" width="2.36" height="0.8" fill="#5868b8" opacity="0.55"/>
<rect x="351.6" y="112.6" width="1.6" height="1.2" fill="#4058d0"/>
<rect x="372.2" y="112.6" width="2.4" height="1.2" fill="#4058d0"/>
<rect x="351.6" y="113.8" width="1.6" height="1.2" fill="#4058d0"/>
<rect x="372.2" y="113.8" width="2.4" height="1.2" fill="#4058d0"/>
<rect x="351.6" y="115" width="1.6" height="1.2" fill="#4058d0"/>
<rect x="372.2" y="115" width="2.4" height="1.2" fill="#4058d0"/>
<rect x="351.6" y="116.2" width="1.6" height="1.2" fill="#4058d0"/>
<rect x="372.2" y="116.2" width="2.4" height="1.2" fill="#4058d0"/>
<rect x="351.6" y="117.4" width="1.6" height="1.2" fill="#4058d0"/>
<rect x="372.2" y="117.4" width="2.4" height="1.2" fill="#4058d0"/>
<rect x="351.6" y="118.6" width="1.6" height="1.2" fill="#4058d0"/>
<rect x="372.2" y="118.6" width="2.4" height="1.2" fill="#4058d0"/>
<rect x="351.6" y="119.8" width="1.6" height="1.2" fill="#4058d0"/>
<rect x="372.2" y="119.8" width="2.4" height="1.2" fill="#4058d0"/>
<rect x="367.73" y="119.8" width="2.39" height="0.8" fill="#b0b070" opacity="0.45"/>
<rect x="351.6" y="121" width="1.6" height="1.2" fill="#4058d0"/>
<rect x="372.2" y="121" width="2.4" height="1.2" fill="#4058d0"/>
<rect x="351.6" y="122.2" width="1.6" height="1.2" fill="#4058d0"/>
<rect x="372.2" y="122.2" width="2.4" height="1.2" fill="#4058d0"/>
<rect x="364.36" y="122.2" width="3.45" height="0.8" fill="#b0b070" opacity="0.45"/>
<rect x="351.6" y="123.4" width="1.6" height="1.2" fill="#4058d0"/>
<rect x="372.2" y="123.4" width="2.4" height="1.2" fill="#4058d0"/>
<rect x="351.6" y="124.6" width="1.6" height="1.2" fill="#4058d0"/>
<rect x="372.2" y="124.6" width="2.4" height="1.2" fill="#4058d0"/>
<rect x="351.6" y="125.8" width="1.6" height="1.2" fill="#4058d0"/>
<rect x="372.2" y="125.8" width="2.4" height="1.2" fill="#4058d0"/>
<rect x="351.6" y="127" width="1.6" height="1.2" fill="#4058d0"/>
<rect x="372.2" y="127" width="2.4" height="1.2" fill="#4058d0"/>
<rect x="366.64" y="127" width="2.74" height="0.8" fill="#b0b070" opacity="0.45"/>
<rect x="351.6" y="128.2" width="1.6" height="1.2" fill="#4058d0"/>
<rect x="372.2" y="128.2" width="2.4" height="1.2" fill="#4058d0"/>
<rect x="351.6" y="129.4" width="1.6" height="1.2" fill="#4058d0"/>
<rect x="372.2" y="129.4" width="2.4" height="1.2" fill="#4058d0"/>
<rect x="351.6" y="130.6" width="1.6" height="1.2" fill="#4058d0"/>
<rect x="372.2" y="130.6" width="2.4" height="1.2" fill="#4058d0"/>
<rect x="351.6" y="131.8" width="1.6" height="1.2" fill="#b8c040"/>
<rect x="372.2" y="131.8" width="2.4" height="1.2" fill="#b8c040"/>
<rect x="368.64" y="131.8" width="5.79" height="0.8" fill="#5868b8" opacity="0.55"/>
<rect x="351.6" y="133" width="1.6" height="1.2" fill="#b8c040"/>
<rect x="372.2" y="133" width="2.4" height="1.2" fill="#b8c040"/>
<rect x="365.03" y="133" width="4.79" height="0.8" fill="#5868b8" opacity="0.55"/>
<rect x="351.6" y="134.2" width="1.6" height="1.2" fill="#b8c040"/>
<rect x="372.2" y="134.2" width="2.4" height="1.2" fill="#b8c040"/>
<rect x="369.52" y="134.2" width="2.52" height="0.8" fill="#5868b8" opacity="0.55"/>
<rect x="331" y="134.2" width="20" height="0.6" fill="#a0a850" opacity="0.35"/>
<rect x="351.6" y="135.4" width="1.6" height="1.2" fill="#b8c040"/>
<rect x="372.2" y="135.4" width="2.4" height="1.2" fill="#b8c040"/>
<rect x="366.96" y="135.4" width="7.06" height="0.8" fill="#5868b8" opacity="0.55"/>
<rect x="351.6" y="136.6" width="1.6" height="1.2" fill="#4058d0"/>
<rect x="372.2" y="136.6" width="2.4" height="1.2" fill="#4058d0"/>
<rect x="351.6" y="137.8" width="1.6" height="1.2" fill="#4058d0"/>
<rect x="372.2" y="137.8" width="2.4" height="1.2" fill="#4058d0"/>
<rect x="351.6" y="139" width="1.6" height="1.2" fill="#4058d0"/>
<rect x="372.2" y="139" width="2.4" height="1.2" fill="#4058d0"/>
<rect x="354.24" y="139" width="3.2" height="0.8" fill="#b0b070" opacity="0.45"/>
<rect x="351.6" y="140.2" width="1.6" height="1.2" fill="#4058d0"/>
<rect x="372.2" y="140.2" width="2.4" height="1.2" fill="#4058d0"/>
<rect x="351.6" y="141.4" width="1.6" height="1.2" fill="#4058d0"/>
<rect x="372.2" y="141.4" width="2.4" height="1.2" fill="#4058d0"/>
<rect x="351.6" y="142.6" width="1.6" height="1.2" fill="#4058d0"/>
<rect x="372.2" y="142.6" width="2.4" height="1.2" fill="#4058d0"/>
<rect x="351.6" y="143.8" width="1.6" height="1.2" fill="#4058d0"/>
<rect x="372.2" y="143.8" width="2.4" height="1.2" fill="#4058d0"/>
<rect x="351.6" y="145" width="1.6" height="1.2" fill="#4058d0"/>
<rect x="372.2" y="145" width="2.4" height="1.2" fill="#4058d0"/>
<rect x="351.6" y="146.2" width="1.6" height="1.2" fill="#4058d0"/>
<rect x="372.2" y="146.2" width="2.4" height="1.2" fill="#4058d0"/>
<rect x="351.6" y="147.4" width="1.6" height="1.2" fill="#4058d0"/>
<rect x="372.2" y="147.4" width="2.4" height="1.2" fill="#4058d0"/>
<rect x="351.6" y="148.6" width="1.6" height="1.2" fill="#4058d0"/>
<rect x="372.2" y="148.6" width="2.4" height="1.2" fill="#4058d0"/>
<rect x="357.32" y="148.6" width="3.91" height="0.8" fill="#b0b070" opacity="0.45"/>
<rect x="351.6" y="149.8" width="1.6" height="1.2" fill="#4058d0"/>
<rect x="372.2" y="149.8" width="2.4" height="1.2" fill="#4058d0"/>
<rect x="351.6" y="151" width="1.6" height="1.2" fill="#4058d0"/>
<rect x="372.2" y="151" width="2.4" height="1.2" fill="#4058d0"/>
<rect x="358.17" y="151" width="3.7" height="0.8" fill="#b0b070" opacity="0.45"/>
<rect x="351.6" y="152.2" width="1.6" height="1.2" fill="#4058d0"/>
<rect x="372.2" y="152.2" width="2.4" height="1.2" fill="#4058d0"/>
<rect x="365.85" y="152.2" width="1.4" height="0.8" fill="#b0b070" opacity="0.45"/>
<rect x="351.6" y="153.4" width="1.6" height="1.2" fill="#4058d0"/>
<rect x="372.2" y="153.4" width="2.4" height="1.2" fill="#4058d0"/>
<rect x="351.6" y="154.6" width="1.6" height="1.2" fill="#4058d0"/>
<rect x="372.2" y="154.6" width="2.4" height="1.2" fill="#4058d0"/>
<rect x="351.6" y="155.8" width="1.6" height="1.2" fill="#4058d0"/>
<rect x="372.2" y="155.8" width="2.4" height="1.2" fill="#4058d0"/>
<rect x="368.3" y="155.8" width="2.07" height="0.8" fill="#b0b070" opacity="0.45"/>
<rect x="351.6" y="157" width="1.6" height="1.2" fill="#4058d0"/>
<rect x="372.2" y="157" width="2.4" height="1.2" fill="#4058d0"/>
<rect x="351.6" y="158.2" width="1.6" height="1.2" fill="#4058d0"/>
<rect x="372.2" y="158.2" width="2.4" height="1.2" fill="#4058d0"/>
<rect x="351.6" y="159.4" width="1.6" height="1.2" fill="#4058d0"/>
<rect x="372.2" y="159.4" width="2.4" height="1.2" fill="#4058d0"/>
<rect x="355.1" y="159.4" width="1.45" height="0.8" fill="#b0b070" opacity="0.45"/>
<rect x="351.6" y="160.6" width="1.6" height="1.2" fill="#4058d0"/>
<rect x="372.2" y="160.6" width="2.4" height="1.2" fill="#4058d0"/>
<rect x="354.24" y="160.6" width="1.14" height="0.8" fill="#b0b070" opacity="0.45"/>
<rect x="351.6" y="161.8" width="1.6" height="1.2" fill="#4058d0"/>
<rect x="372.2" y="161.8" width="2.4" height="1.2" fill="#4058d0"/>
<rect x="351.6" y="163" width="1.6" height="1.2" fill="#4058d0"/>
<rect x="372.2" y="163" width="2.4" height="1.2" fill="#4058d0"/>
<rect x="361.53" y="163" width="1.36" height="0.8" fill="#b0b070" opacity="0.45"/>
<rect x="351.6" y="164.2" width="1.6" height="1.2" fill="#4058d0"/>
<rect x="372.2" y="164.2" width="2.4" height="1.2" fill="#4058d0"/>
<rect x="351.6" y="165.4" width="1.6" height="1.2" fill="#4058d0"/>
<rect x="372.2" y="165.4" width="2.4" height="1.2" fill="#4058d0"/>
<rect x="351.6" y="166.6" width="1.6" height="1.2" fill="#4058d0"/>
<rect x="372.2" y="166.6" width="2.4" height="1.2" fill="#4058d0"/>
<rect x="351.6" y="167.8" width="1.6" height="1.2" fill="#4058d0"/>
<rect x="372.2" y="167.8" width="2.4" height="1.2" fill="#4058d0"/>
<rect x="351.6" y="169" width="1.6" height="1.2" fill="#4058d0"/>
<rect x="372.2" y="169" width="2.4" height="1.2" fill="#4058d0"/>
<rect x="369.39" y="169" width="1.14" height="0.8" fill="#b0b070" opacity="0.45"/>
<rect x="351.6" y="170.2" width="1.6" height="1.2" fill="#b8c040"/>
<rect x="372.2" y="170.2" width="2.4" height="1.2" fill="#b8c040"/>
<rect x="363.1" y="170.2" width="10.03" height="0.8" fill="#5868b8" opacity="0.55"/>
<rect x="351.6" y="171.4" width="1.6" height="1.2" fill="#b8c040"/>
<rect x="372.2" y="171.4" width="2.4" height="1.2" fill="#b8c040"/>
<rect x="368.42" y="171.4" width="9.82" height="0.8" fill="#5868b8" opacity="0.55"/>
<rect x="351.6" y="172.6" width="1.6" height="1.2" fill="#b8c040"/>
<rect x="372.2" y="172.6" width="2.4" height="1.2" fill="#b8c040"/>
<rect x="358.77" y="172.6" width="6.37" height="0.8" fill="#5868b8" opacity="0.55"/>
<rect x="368.39" y="172.6" width="4.14" height="0.8" fill="#5868b8" opacity="0.55"/>
<rect x="351.6" y="173.8" width="1.6" height="1.2" fill="#b8c040"/>
<rect x="372.2" y="173.8" width="2.4" height="1.2" fill="#b8c040"/>
<rect x="367.36" y="173.8" width="3.76" height="0.8" fill="#5868b8" opacity="0.55"/>
<rect x="355.26" y="173.8" width="3.91" height="0.8" fill="#5868b8" opacity="0.55"/>
<rect x="351.6" y="175" width="1.6" height="1.2" fill="#b8c040"/>
<rect x="372.2" y="175" width="2.4" height="1.2" fill="#b8c040"/>
<rect x="369.47" y="175" width="6.72" height="0.8" fill="#5868b8" opacity="0.55"/>
<rect x="367.67" y="175" width="2.47" height="0.8" fill="#5868b8" opacity="0.55"/>
<rect x="351.6" y="176.2" width="1.6" height="1.2" fill="#b8c040"/>
<rect x="372.2" y="176.2" width="2.4" height="1.2" fill="#b8c040"/>
<rect x="365.53" y="176.2" width="3.49" height="0.8" fill="#5868b8" opacity="0.55"/>
<rect x="370.55" y="176.2" width="6.38" height="0.8" fill="#5868b8" opacity="0.55"/>
<rect x="351.6" y="177.4" width="1.6" height="1.2" fill="#b8c040"/>
<rect x="372.2" y="177.4" width="2.4" height="1.2" fill="#b8c040"/>
<rect x="368.5" y="177.4" width="10.23" height="0.8" fill="#5868b8" opacity="0.55"/>
<rect x="331" y="177.4" width="20" height="0.6" fill="#a0a850" opacity="0.35"/>
<rect x="351.6" y="178.6" width="1.6" height="1.2" fill="#b8c040"/>
<rect x="372.2" y="178.6" width="2.4" height="1.2" fill="#b8c040"/>
<rect x="358.5" y="178.6" width="8.67" height="0.8" fill="#5868b8" opacity="0.55"/>
<rect x="362.63" y="178.6" width="9.14" height="0.8" fill="#5868b8" opacity="0.55"/>
<rect x="351.6" y="179.8" width="1.6" height="1.2" fill="#b8c040"/>
<rect x="372.2" y="179.8" width="2.4" height="1.2" fill="#b8c040"/>
<rect x="368.39" y="179.8" width="4.14" height="0.8" fill="#5868b8" opacity="0.55"/>
<rect x="351.6" y="181" width="1.6" height="1.2" fill="#b8c040"/>
<rect x="372.2" y="181" width="2.4" height="1.2" fill="#b8c040"/>
<rect x="366.61" y="181" width="9.27" height="0.8" fill="#5868b8" opacity="0.55"/>
<rect x="351.6" y="182.2" width="1.6" height="1.2" fill="#b8c040"/>
<rect x="372.2" y="182.2" width="2.4" height="1.2" fill="#b8c040"/>
<rect x="357.64" y="182.2" width="3.33" height="0.8" fill="#5868b8" opacity="0.55"/>
<rect x="360.59" y="182.2" width="5.21" height="0.8" fill="#5868b8" opacity="0.55"/>
<rect x="351.6" y="183.4" width="1.6" height="1.2" fill="#b8c040"/>
<rect x="372.2" y="183.4" width="2.4" height="1.2" fill="#b8c040"/>
<rect x="353.48" y="183.4" width="6.25" height="0.8" fill="#5868b8" opacity="0.55"/>
<rect x="361.5" y="183.4" width="10.36" height="0.8" fill="#5868b8" opacity="0.55"/>
<rect x="331" y="183.4" width="20" height="0.6" fill="#a0a850" opacity="0.35"/>
<rect x="351.6" y="184.6" width="1.6" height="1.2" fill="#b8c040"/>
<rect x="372.2" y="184.6" width="2.4" height="1.2" fill="#b8c040"/>
<rect x="331" y="184.6" width="20" height="0.6" fill="#a0a850" opacity="0.35"/>
<rect x="351.6" y="185.8" width="1.6" height="1.2" fill="#b8c040"/>
<rect x="372.2" y="185.8" width="2.4" height="1.2" fill="#b8c040"/>
<rect x="370.85" y="185.8" width="5.08" height="0.8" fill="#5868b8" opacity="0.55"/>
<rect x="351.6" y="187" width="1.6" height="1.2" fill="#b8c040"/>
<rect x="372.2" y="187" width="2.4" height="1.2" fill="#b8c040"/>
<rect x="371.22" y="187" width="7.63" height="0.8" fill="#5868b8" opacity="0.55"/>
<rect x="366.27" y="187" width="5.81" height="0.8" fill="#5868b8" opacity="0.55"/>
<rect x="351.6" y="188.2" width="1.6" height="1.2" fill="#b8c040"/>
<rect x="372.2" y="188.2" width="2.4" height="1.2" fill="#b8c040"/>
<rect x="370.09" y="188.2" width="6.88" height="0.8" fill="#5868b8" opacity="0.55"/>
<rect x="361.27" y="188.2" width="10.06" height="0.8" fill="#5868b8" opacity="0.55"/>
<rect x="351.6" y="189.4" width="1.6" height="1.2" fill="#b8c040"/>
<rect x="372.2" y="189.4" width="2.4" height="1.2" fill="#b8c040"/>
<rect x="359.73" y="189.4" width="5.39" height="0.8" fill="#5868b8" opacity="0.55"/>
<rect x="331" y="189.4" width="20" height="0.6" fill="#a0a850" opacity="0.35"/>
<rect x="351.6" y="190.6" width="1.6" height="1.2" fill="#b8c040"/>
<rect x="372.2" y="190.6" width="2.4" height="1.2" fill="#b8c040"/>
<rect x="331" y="190.6" width="20" height="0.6" fill="#a0a850" opacity="0.35"/>
<rect x="351.6" y="191.8" width="1.6" height="1.2" fill="#b8c040"/>
<rect x="372.2" y="191.8" width="2.4" height="1.2" fill="#b8c040"/>
<rect x="363.65" y="191.8" width="9.22" height="0.8" fill="#5868b8" opacity="0.55"/>
<rect x="330.8" y="36.8" width="70" height="0.9" fill="#7a8a90"/>
<text x="330.7" y="202.3" font-size="6.1" stroke="#000" stroke-width="0.1" textLength="73.2" lengthAdjust="spacingAndGlyphs">-0.9 Centered &amp; scaled value 1</text>
<defs><linearGradient id="hg" x1="0" x2="1" y1="0" y2="0"><stop offset="0" stop-color="#2040f0"/><stop offset="0.5" stop-color="#303060"/><stop offset="1" stop-color="#f0f020"/></linearGradient></defs>
<rect x="337" y="205.1" width="52.6" height="1.6" fill="url(#hg)"/>
<text x="17.4" y="233.8" font-size="10" font-weight="bold">C</text>
<text x="87.5" y="244.2" font-size="9.7" stroke="#000" stroke-width="0.1" textLength="61" lengthAdjust="spacingAndGlyphs">CD41+CD42+</text>
<path d="M62 316h1v1h-1zM68 316h1v1h-1zM70 316h2v1h-2zM74 316h1v1h-1zM76 316h1v1h-1zM78 316h1v1h-1zM80 316h3v1h-3zM84 316h10v1h-10zM95 316h18v1h-18zM130 316h14v1h-14zM145 316h10v1h-10zM157 316h3v1h-3zM161 316h2v1h-2zM164 316h2v1h-2zM68 317h7v1h-7zM76 317h2v1h-2zM80 317h33v1h-33zM130 317h18v1h-18zM149 317h5v1h-5zM155 317h2v1h-2zM159 317h4v1h-4zM164 317h2v1h-2zM169 317h1v1h-1zM171 317h1v1h-1zM67 318h1v1h-1zM69 318h2v1h-2zM72 318h1v1h-1zM74 318h6v1h-6zM81 318h32v1h-32zM130 318h18v1h-18zM149 318h1v1h-1zM151 318h6v1h-6zM159 318h1v1h-1zM161 318h1v1h-1zM164 318h1v1h-1zM167 318h1v1h-1zM59 319h1v1h-1zM61 319h1v1h-1zM66 319h1v1h-1zM71 319h1v1h-1zM73 319h6v1h-6zM81 319h2v1h-2zM84 319h29v1h-29zM130 319h18v1h-18zM150 319h2v1h-2zM153 319h6v1h-6zM160 319h1v1h-1zM162 319h1v1h-1zM164 319h2v1h-2zM174 319h1v1h-1zM69 320h1v1h-1zM71 320h9v1h-9zM81 320h25v1h-25zM107 320h7v1h-7zM129 320h9v1h-9zM139 320h14v1h-14zM154 320h7v1h-7zM163 320h1v1h-1zM165 320h1v1h-1zM167 320h1v1h-1zM55 321h1v1h-1zM59 321h2v1h-2zM70 321h1v1h-1zM72 321h2v1h-2zM76 321h2v1h-2zM80 321h5v1h-5zM86 321h16v1h-16zM103 321h3v1h-3zM107 321h7v1h-7zM129 321h13v1h-13zM143 321h8v1h-8zM152 321h1v1h-1zM154 321h2v1h-2zM158 321h1v1h-1zM160 321h1v1h-1zM162 321h1v1h-1zM165 321h2v1h-2zM68 322h1v1h-1zM70 322h1v1h-1zM72 322h4v1h-4zM78 322h5v1h-5zM85 322h29v1h-29zM129 322h8v1h-8zM138 322h10v1h-10zM149 322h1v1h-1zM152 322h9v1h-9zM164 322h2v1h-2zM60 323h2v1h-2zM65 323h1v1h-1zM68 323h2v1h-2zM73 323h11v1h-11zM85 323h1v1h-1zM87 323h8v1h-8zM96 323h18v1h-18zM129 323h11v1h-11zM141 323h7v1h-7zM151 323h1v1h-1zM155 323h6v1h-6zM163 323h1v1h-1zM165 323h1v1h-1zM169 323h1v1h-1zM50 324h1v1h-1zM57 324h1v1h-1zM59 324h2v1h-2zM69 324h1v1h-1zM71 324h12v1h-12zM84 324h31v1h-31zM129 324h19v1h-19zM149 324h9v1h-9zM159 324h2v1h-2zM170 324h1v1h-1zM70 325h1v1h-1zM74 325h8v1h-8zM83 325h19v1h-19zM103 325h8v1h-8zM112 325h3v1h-3zM128 325h24v1h-24zM153 325h10v1h-10zM164 325h1v1h-1zM71 326h2v1h-2zM74 326h5v1h-5zM81 326h3v1h-3zM87 326h1v1h-1zM90 326h25v1h-25zM128 326h9v1h-9zM138 326h9v1h-9zM149 326h1v1h-1zM151 326h2v1h-2zM155 326h1v1h-1zM158 326h3v1h-3zM162 326h1v1h-1zM164 326h1v1h-1zM167 326h1v1h-1zM50 327h1v1h-1zM68 327h3v1h-3zM74 327h3v1h-3zM79 327h1v1h-1zM81 327h3v1h-3zM85 327h1v1h-1zM87 327h11v1h-11zM99 327h16v1h-16zM128 327h20v1h-20zM149 327h1v1h-1zM153 327h1v1h-1zM156 327h1v1h-1zM159 327h2v1h-2zM169 327h1v1h-1zM62 328h1v1h-1zM70 328h1v1h-1zM74 328h1v1h-1zM76 328h3v1h-3zM80 328h4v1h-4zM85 328h3v1h-3zM89 328h24v1h-24zM114 328h1v1h-1zM128 328h20v1h-20zM152 328h9v1h-9zM168 328h1v1h-1zM74 329h3v1h-3zM78 329h3v1h-3zM82 329h1v1h-1zM85 329h10v1h-10zM96 329h20v1h-20zM128 329h14v1h-14zM144 329h1v1h-1zM146 329h2v1h-2zM149 329h4v1h-4zM154 329h3v1h-3zM158 329h2v1h-2zM163 329h2v1h-2zM166 329h2v1h-2zM72 330h6v1h-6zM80 330h2v1h-2zM83 330h4v1h-4zM88 330h28v1h-28zM127 330h5v1h-5zM134 330h13v1h-13zM148 330h3v1h-3zM152 330h4v1h-4zM157 330h2v1h-2zM62 331h1v1h-1zM70 331h1v1h-1zM74 331h2v1h-2zM77 331h8v1h-8zM86 331h30v1h-30zM127 331h19v1h-19zM147 331h3v1h-3zM151 331h1v1h-1zM154 331h2v1h-2zM157 331h1v1h-1zM163 331h2v1h-2zM66 332h1v1h-1zM68 332h1v1h-1zM73 332h1v1h-1zM75 332h1v1h-1zM77 332h2v1h-2zM80 332h4v1h-4zM85 332h2v1h-2zM88 332h2v1h-2zM91 332h7v1h-7zM99 332h12v1h-12zM112 332h4v1h-4zM128 332h27v1h-27zM157 332h1v1h-1zM54 333h1v1h-1zM61 333h1v1h-1zM70 333h1v1h-1zM73 333h1v1h-1zM76 333h11v1h-11zM88 333h2v1h-2zM91 333h26v1h-26zM127 333h22v1h-22zM151 333h1v1h-1zM156 333h3v1h-3zM160 333h2v1h-2zM164 333h1v1h-1zM55 334h1v1h-1zM66 334h1v1h-1zM71 334h1v1h-1zM73 334h2v1h-2zM76 334h5v1h-5zM82 334h3v1h-3zM86 334h31v1h-31zM127 334h19v1h-19zM148 334h1v1h-1zM150 334h1v1h-1zM152 334h3v1h-3zM158 334h3v1h-3zM61 335h1v1h-1zM64 335h2v1h-2zM71 335h1v1h-1zM73 335h3v1h-3zM77 335h9v1h-9zM87 335h4v1h-4zM92 335h12v1h-12zM105 335h12v1h-12zM126 335h29v1h-29zM156 335h3v1h-3zM160 335h1v1h-1zM164 335h1v1h-1zM65 336h1v1h-1zM68 336h1v1h-1zM70 336h1v1h-1zM76 336h1v1h-1zM78 336h2v1h-2zM82 336h4v1h-4zM87 336h1v1h-1zM89 336h1v1h-1zM91 336h26v1h-26zM126 336h7v1h-7zM134 336h15v1h-15zM150 336h1v1h-1zM152 336h1v1h-1zM154 336h2v1h-2zM157 336h2v1h-2zM160 336h1v1h-1zM162 336h1v1h-1zM70 337h1v1h-1zM74 337h8v1h-8zM83 337h1v1h-1zM85 337h32v1h-32zM126 337h22v1h-22zM149 337h2v1h-2zM152 337h1v1h-1zM154 337h3v1h-3zM159 337h1v1h-1zM170 337h1v1h-1zM66 338h1v1h-1zM73 338h1v1h-1zM75 338h1v1h-1zM77 338h8v1h-8zM86 338h4v1h-4zM91 338h27v1h-27zM126 338h19v1h-19zM147 338h1v1h-1zM149 338h6v1h-6zM156 338h3v1h-3zM163 338h1v1h-1zM73 339h1v1h-1zM75 339h10v1h-10zM86 339h4v1h-4zM91 339h23v1h-23zM115 339h3v1h-3zM126 339h3v1h-3zM130 339h20v1h-20zM151 339h2v1h-2zM157 339h2v1h-2zM75 340h1v1h-1zM77 340h6v1h-6zM84 340h7v1h-7zM93 340h10v1h-10zM104 340h14v1h-14zM126 340h4v1h-4zM131 340h16v1h-16zM148 340h3v1h-3zM152 340h2v1h-2zM156 340h1v1h-1zM159 340h1v1h-1zM57 341h1v1h-1zM67 341h1v1h-1zM72 341h1v1h-1zM77 341h10v1h-10zM89 341h3v1h-3zM93 341h25v1h-25zM125 341h13v1h-13zM139 341h9v1h-9zM150 341h2v1h-2zM153 341h5v1h-5zM163 341h1v1h-1zM165 341h1v1h-1zM57 342h1v1h-1zM73 342h1v1h-1zM76 342h2v1h-2zM79 342h5v1h-5zM86 342h5v1h-5zM92 342h27v1h-27zM125 342h1v1h-1zM127 342h16v1h-16zM144 342h3v1h-3zM150 342h1v1h-1zM152 342h5v1h-5zM162 342h1v1h-1zM169 342h1v1h-1zM72 343h1v1h-1zM78 343h2v1h-2zM81 343h38v1h-38zM125 343h18v1h-18zM144 343h1v1h-1zM146 343h4v1h-4zM151 343h2v1h-2zM155 343h2v1h-2zM161 343h1v1h-1zM78 344h39v1h-39zM118 344h1v1h-1zM125 344h15v1h-15zM141 344h6v1h-6zM148 344h5v1h-5zM154 344h5v1h-5zM49 345h1v1h-1zM70 345h1v1h-1zM76 345h9v1h-9zM86 345h14v1h-14zM101 345h18v1h-18zM125 345h21v1h-21zM147 345h1v1h-1zM149 345h1v1h-1zM152 345h1v1h-1zM154 345h1v1h-1zM156 345h1v1h-1zM78 346h1v1h-1zM80 346h2v1h-2zM83 346h2v1h-2zM86 346h1v1h-1zM88 346h2v1h-2zM91 346h13v1h-13zM105 346h4v1h-4zM110 346h9v1h-9zM124 346h6v1h-6zM131 346h1v1h-1zM133 346h6v1h-6zM140 346h5v1h-5zM147 346h5v1h-5zM153 346h3v1h-3zM169 346h1v1h-1zM63 347h1v1h-1zM79 347h1v1h-1zM81 347h1v1h-1zM83 347h1v1h-1zM85 347h2v1h-2zM89 347h1v1h-1zM91 347h2v1h-2zM94 347h4v1h-4zM100 347h20v1h-20zM124 347h5v1h-5zM130 347h14v1h-14zM145 347h5v1h-5zM151 347h4v1h-4zM156 347h1v1h-1zM170 347h1v1h-1zM55 348h1v1h-1zM80 348h5v1h-5zM86 348h1v1h-1zM88 348h5v1h-5zM94 348h1v1h-1zM96 348h24v1h-24zM124 348h6v1h-6zM131 348h4v1h-4zM136 348h8v1h-8zM145 348h9v1h-9zM83 349h5v1h-5zM89 349h4v1h-4zM94 349h16v1h-16zM111 349h9v1h-9zM124 349h6v1h-6zM131 349h22v1h-22zM51 350h1v1h-1zM84 350h2v1h-2zM87 350h1v1h-1zM90 350h22v1h-22zM113 350h7v1h-7zM124 350h5v1h-5zM130 350h20v1h-20zM151 350h1v1h-1zM163 350h1v1h-1zM170 350h1v1h-1zM63 351h2v1h-2zM66 351h1v1h-1zM89 351h5v1h-5zM95 351h25v1h-25zM123 351h23v1h-23zM147 351h3v1h-3zM92 352h29v1h-29zM123 352h21v1h-21zM145 352h3v1h-3zM95 353h1v1h-1zM97 353h3v1h-3zM101 353h20v1h-20zM123 353h21v1h-21zM94 354h2v1h-2zM97 354h24v1h-24zM123 354h20v1h-20zM99 355h22v1h-22zM123 355h18v1h-18zM103 356h1v1h-1zM105 356h3v1h-3zM109 356h27v1h-27zM106 357h2v1h-2zM109 357h23v1h-23zM133 357h1v1h-1zM135 357h1v1h-1zM108 358h2v1h-2zM113 358h1v1h-1zM115 358h1v1h-1zM117 358h9v1h-9zM127 358h7v1h-7zM114 359h1v1h-1zM118 359h1v1h-1zM128 359h1v1h-1z" fill="#000"/>
<path d="M77.6 256.6h1.8v1.8h-1.8zM92.6 256.6h1.8v1.8h-1.8zM94.6 270.6h1.8v1.8h-1.8zM75.6 273.6h1.8v1.8h-1.8zM141.6 273.6h1.8v1.8h-1.8zM141.6 276.6h1.8v1.8h-1.8zM152.6 276.6h1.8v1.8h-1.8zM158.6 277.6h1.8v1.8h-1.8zM58.6 278.6h1.8v1.8h-1.8zM100.6 278.6h1.8v1.8h-1.8zM154.6 278.6h1.8v1.8h-1.8zM53.6 279.6h1.8v1.8h-1.8zM72.6 279.6h1.8v1.8h-1.8zM97.6 279.6h1.8v1.8h-1.8zM87.6 280.6h1.8v1.8h-1.8zM145.6 280.6h1.8v1.8h-1.8zM147.6 280.6h1.8v1.8h-1.8zM161.6 280.6h1.8v1.8h-1.8zM155.6 281.6h1.8v1.8h-1.8zM72.6 282.6h1.8v1.8h-1.8zM147.6 282.6h1.8v1.8h-1.8zM92.6 283.6h1.8v1.8h-1.8zM104.6 283.6h1.8v1.8h-1.8zM141.6 284.6h1.8v1.8h-1.8zM91.6 285.6h1.8v1.8h-1.8zM143.6 285.6h1.8v1.8h-1.8zM140.6 286.6h1.8v1.8h-1.8zM80.6 287.6h1.8v1.8h-1.8zM90.6 287.6h1.8v1.8h-1.8zM80.6 288.6h1.8v1.8h-1.8zM93.6 288.6h1.8v1.8h-1.8zM99.6 288.6h1.8v1.8h-1.8zM139.6 289.6h1.8v1.8h-1.8zM150.6 289.6h1.8v1.8h-1.8zM80.6 290.6h1.8v1.8h-1.8zM86.6 290.6h1.8v1.8h-1.8zM144.6 290.6h1.8v1.8h-1.8zM86.6 291.6h1.8v1.8h-1.8zM92.6 291.6h1.8v1.8h-1.8zM138.6 291.6h1.8v1.8h-1.8zM148.6 291.6h1.8v1.8h-1.8zM179.6 291.6h1.8v1.8h-1.8zM75.6 292.6h1.8v1.8h-1.8zM106.6 292.6h1.8v1.8h-1.8zM142.6 292.6h1.8v1.8h-1.8zM63.6 293.6h1.8v1.8h-1.8zM70.6 293.6h1.8v1.8h-1.8zM79.6 293.6h1.8v1.8h-1.8zM100.6 293.6h1.8v1.8h-1.8zM101.6 293.6h1.8v1.8h-1.8zM131.6 293.6h1.8v1.8h-1.8zM145.6 293.6h1.8v1.8h-1.8zM148.6 293.6h1.8v1.8h-1.8zM139.6 294.6h1.8v1.8h-1.8zM67.6 295.6h1.8v1.8h-1.8zM83.6 295.6h1.8v1.8h-1.8zM84.6 295.6h1.8v1.8h-1.8zM145.6 295.6h1.8v1.8h-1.8zM155.6 295.6h1.8v1.8h-1.8zM160.6 295.6h1.8v1.8h-1.8zM60.6 296.6h1.8v1.8h-1.8zM82.6 296.6h1.8v1.8h-1.8zM96.6 296.6h1.8v1.8h-1.8zM135.6 296.6h1.8v1.8h-1.8zM43.6 298.6h1.8v1.8h-1.8zM88.6 298.6h1.8v1.8h-1.8zM95.6 298.6h1.8v1.8h-1.8zM136.6 298.6h1.8v1.8h-1.8zM139.6 298.6h1.8v1.8h-1.8zM149.6 298.6h1.8v1.8h-1.8zM96.6 299.6h1.8v1.8h-1.8zM99.6 299.6h1.8v1.8h-1.8zM132.6 299.6h1.8v1.8h-1.8zM133.6 299.6h1.8v1.8h-1.8zM145.6 299.6h1.8v1.8h-1.8zM102.6 300.6h1.8v1.8h-1.8zM108.6 300.6h1.8v1.8h-1.8zM134.6 300.6h1.8v1.8h-1.8zM55.6 301.6h1.8v1.8h-1.8zM65.6 301.6h1.8v1.8h-1.8zM90.6 301.6h1.8v1.8h-1.8zM93.6 301.6h1.8v1.8h-1.8zM94.6 301.6h1.8v1.8h-1.8zM95.6 301.6h1.8v1.8h-1.8zM96.6 301.6h1.8v1.8h-1.8zM98.6 301.6h1.8v1.8h-1.8zM100.6 301.6h1.8v1.8h-1.8zM141.6 301.6h1.8v1.8h-1.8zM149.6 301.6h1.8v1.8h-1.8zM160.6 301.6h1.8v1.8h-1.8zM81.6 302.6h1.8v1.8h-1.8zM89.6 302.6h1.8v1.8h-1.8zM101.6 302.6h1.8v1.8h-1.8zM107.6 302.6h1.8v1.8h-1.8zM135.6 302.6h1.8v1.8h-1.8zM140.6 302.6h1.8v1.8h-1.8zM148.6 302.6h1.8v1.8h-1.8zM84.6 303.6h1.8v1.8h-1.8zM99.6 303.6h1.8v1.8h-1.8zM101.6 303.6h1.8v1.8h-1.8zM105.6 303.6h1.8v1.8h-1.8zM138.6 303.6h1.8v1.8h-1.8zM89.6 304.6h1.8v1.8h-1.8zM92.6 304.6h1.8v1.8h-1.8zM93.6 304.6h1.8v1.8h-1.8zM96.6 304.6h1.8v1.8h-1.8zM101.6 304.6h1.8v1.8h-1.8zM137.6 304.6h1.8v1.8h-1.8zM138.6 304.6h1.8v1.8h-1.8zM142.6 304.6h1.8v1.8h-1.8zM72.6 305.6h1.8v1.8h-1.8zM80.6 305.6h1.8v1.8h-1.8zM84.6 305.6h1.8v1.8h-1.8zM94.6 305.6h1.8v1.8h-1.8zM103.6 305.6h1.8v1.8h-1.8zM106.6 305.6h1.8v1.8h-1.8zM135.6 305.6h1.8v1.8h-1.8zM136.6 305.6h1.8v1.8h-1.8zM137.6 305.6h1.8v1.8h-1.8zM140.6 305.6h1.8v1.8h-1.8zM141.6 305.6h1.8v1.8h-1.8zM167.6 305.6h1.8v1.8h-1.8zM80.6 306.6h1.8v1.8h-1.8zM82.6 306.6h1.8v1.8h-1.8zM84.6 306.6h1.8v1.8h-1.8zM89.6 306.6h1.8v1.8h-1.8zM97.6 306.6h1.8v1.8h-1.8zM100.6 306.6h1.8v1.8h-1.8zM106.6 306.6h1.8v1.8h-1.8zM132.6 306.6h1.8v1.8h-1.8zM138.6 306.6h1.8v1.8h-1.8zM140.6 306.6h1.8v1.8h-1.8zM144.6 306.6h1.8v1.8h-1.8zM148.6 306.6h1.8v1.8h-1.8zM151.6 306.6h1.8v1.8h-1.8zM94.6 307.6h1.8v1.8h-1.8zM95.6 307.6h1.8v1.8h-1.8zM101.6 307.6h1.8v1.8h-1.8zM108.6 307.6h1.8v1.8h-1.8zM130.6 307.6h1.8v1.8h-1.8zM132.6 307.6h1.8v1.8h-1.8zM135.6 307.6h1.8v1.8h-1.8zM140.6 307.6h1.8v1.8h-1.8zM146.6 307.6h1.8v1.8h-1.8zM84.6 308.6h1.8v1.8h-1.8zM86.6 308.6h1.8v1.8h-1.8zM87.6 308.6h1.8v1.8h-1.8zM88.6 308.6h1.8v1.8h-1.8zM94.6 308.6h1.8v1.8h-1.8zM96.6 308.6h1.8v1.8h-1.8zM98.6 308.6h1.8v1.8h-1.8zM100.6 308.6h1.8v1.8h-1.8zM130.6 308.6h1.8v1.8h-1.8zM131.6 308.6h1.8v1.8h-1.8zM133.6 308.6h1.8v1.8h-1.8zM137.6 308.6h1.8v1.8h-1.8zM140.6 308.6h1.8v1.8h-1.8zM156.6 308.6h1.8v1.8h-1.8zM87.6 309.6h1.8v1.8h-1.8zM103.6 309.6h1.8v1.8h-1.8zM107.6 309.6h1.8v1.8h-1.8zM109.6 309.6h1.8v1.8h-1.8zM130.6 309.6h1.8v1.8h-1.8zM132.6 309.6h1.8v1.8h-1.8zM133.6 309.6h1.8v1.8h-1.8zM135.6 309.6h1.8v1.8h-1.8zM136.6 309.6h1.8v1.8h-1.8zM137.6 309.6h1.8v1.8h-1.8zM138.6 309.6h1.8v1.8h-1.8zM139.6 309.6h1.8v1.8h-1.8zM142.6 309.6h1.8v1.8h-1.8zM46.6 310.6h1.8v1.8h-1.8zM82.6 310.6h1.8v1.8h-1.8zM83.6 310.6h1.8v1.8h-1.8zM86.6 310.6h1.8v1.8h-1.8zM88.6 310.6h1.8v1.8h-1.8zM89.6 310.6h1.8v1.8h-1.8zM94.6 310.6h1.8v1.8h-1.8zM97.6 310.6h1.8v1.8h-1.8zM98.6 310.6h1.8v1.8h-1.8zM100.6 310.6h1.8v1.8h-1.8zM101.6 310.6h1.8v1.8h-1.8zM102.6 310.6h1.8v1.8h-1.8zM103.6 310.6h1.8v1.8h-1.8zM105.6 310.6h1.8v1.8h-1.8zM107.6 310.6h1.8v1.8h-1.8zM111.6 310.6h1.8v1.8h-1.8zM129.6 310.6h1.8v1.8h-1.8zM133.6 310.6h1.8v1.8h-1.8zM136.6 310.6h1.8v1.8h-1.8zM137.6 310.6h1.8v1.8h-1.8zM140.6 310.6h1.8v1.8h-1.8zM141.6 310.6h1.8v1.8h-1.8zM142.6 310.6h1.8v1.8h-1.8zM143.6 310.6h1.8v1.8h-1.8zM144.6 310.6h1.8v1.8h-1.8zM77.6 311.6h1.8v1.8h-1.8zM83.6 311.6h1.8v1.8h-1.8zM87.6 311.6h1.8v1.8h-1.8zM88.6 311.6h1.8v1.8h-1.8zM89.6 311.6h1.8v1.8h-1.8zM94.6 311.6h1.8v1.8h-1.8zM99.6 311.6h1.8v1.8h-1.8zM101.6 311.6h1.8v1.8h-1.8zM102.6 311.6h1.8v1.8h-1.8zM103.6 311.6h1.8v1.8h-1.8zM104.6 311.6h1.8v1.8h-1.8zM106.6 311.6h1.8v1.8h-1.8zM108.6 311.6h1.8v1.8h-1.8zM109.6 311.6h1.8v1.8h-1.8zM111.6 311.6h1.8v1.8h-1.8zM129.6 311.6h1.8v1.8h-1.8zM131.6 311.6h1.8v1.8h-1.8zM132.6 311.6h1.8v1.8h-1.8zM133.6 311.6h1.8v1.8h-1.8zM135.6 311.6h1.8v1.8h-1.8zM141.6 311.6h1.8v1.8h-1.8zM144.6 311.6h1.8v1.8h-1.8zM147.6 311.6h1.8v1.8h-1.8zM163.6 311.6h1.8v1.8h-1.8zM83.6 312.6h1.8v1.8h-1.8zM84.6 312.6h1.8v1.8h-1.8zM85.6 312.6h1.8v1.8h-1.8zM87.6 312.6h1.8v1.8h-1.8zM88.6 312.6h1.8v1.8h-1.8zM90.6 312.6h1.8v1.8h-1.8zM93.6 312.6h1.8v1.8h-1.8zM95.6 312.6h1.8v1.8h-1.8zM96.6 312.6h1.8v1.8h-1.8zM97.6 312.6h1.8v1.8h-1.8zM98.6 312.6h1.8v1.8h-1.8zM99.6 312.6h1.8v1.8h-1.8zM100.6 312.6h1.8v1.8h-1.8zM101.6 312.6h1.8v1.8h-1.8zM102.6 312.6h1.8v1.8h-1.8zM103.6 312.6h1.8v1.8h-1.8zM105.6 312.6h1.8v1.8h-1.8zM107.6 312.6h1.8v1.8h-1.8zM130.6 312.6h1.8v1.8h-1.8zM131.6 312.6h1.8v1.8h-1.8zM133.6 312.6h1.8v1.8h-1.8zM136.6 312.6h1.8v1.8h-1.8zM137.6 312.6h1.8v1.8h-1.8zM138.6 312.6h1.8v1.8h-1.8zM141.6 312.6h1.8v1.8h-1.8zM143.6 312.6h1.8v1.8h-1.8zM145.6 312.6h1.8v1.8h-1.8z" fill="#2a4ec4"/>
<line x1="36.5" y1="315.3" x2="183.4" y2="315.3" stroke="#222" stroke-width="0.9" stroke-dasharray="1 0.8"/>
<rect x="36.5" y="252.6" width="146.9" height="110" fill="none" stroke="#000" stroke-width="1.2"/>
<line x1="33.5" y1="358.5" x2="36.5" y2="358.5" stroke="#000" stroke-width="0.9"/>
<text x="31.3" y="360.9" font-size="7" text-anchor="end" fill="#111" stroke="#111" stroke-width="0.1" textLength="3.7" lengthAdjust="spacingAndGlyphs">0</text>
<line x1="33.5" y1="344.05" x2="36.5" y2="344.05" stroke="#000" stroke-width="0.9"/>
<text x="31.3" y="346.45" font-size="7" text-anchor="end" fill="#111" stroke="#111" stroke-width="0.1" textLength="3.7" lengthAdjust="spacingAndGlyphs">1</text>
<line x1="33.5" y1="329.6" x2="36.5" y2="329.6" stroke="#000" stroke-width="0.9"/>
<text x="31.3" y="332" font-size="7" text-anchor="end" fill="#111" stroke="#111" stroke-width="0.1" textLength="3.7" lengthAdjust="spacingAndGlyphs">2</text>
<line x1="33.5" y1="315.15" x2="36.5" y2="315.15" stroke="#000" stroke-width="0.9"/>
<text x="31.3" y="317.55" font-size="7" text-anchor="end" fill="#111" stroke="#111" stroke-width="0.1" textLength="3.7" lengthAdjust="spacingAndGlyphs">3</text>
<line x1="33.5" y1="300.7" x2="36.5" y2="300.7" stroke="#000" stroke-width="0.9"/>
<text x="31.3" y="303.1" font-size="7" text-anchor="end" fill="#111" stroke="#111" stroke-width="0.1" textLength="3.7" lengthAdjust="spacingAndGlyphs">4</text>
<line x1="33.5" y1="286.25" x2="36.5" y2="286.25" stroke="#000" stroke-width="0.9"/>
<text x="31.3" y="288.65" font-size="7" text-anchor="end" fill="#111" stroke="#111" stroke-width="0.1" textLength="3.7" lengthAdjust="spacingAndGlyphs">5</text>
<line x1="33.5" y1="271.8" x2="36.5" y2="271.8" stroke="#000" stroke-width="0.9"/>
<text x="31.3" y="274.2" font-size="7" text-anchor="end" fill="#111" stroke="#111" stroke-width="0.1" textLength="3.7" lengthAdjust="spacingAndGlyphs">6</text>
<line x1="33.5" y1="257.35" x2="36.5" y2="257.35" stroke="#000" stroke-width="0.9"/>
<text x="31.3" y="259.75" font-size="7" text-anchor="end" fill="#111" stroke="#111" stroke-width="0.1" textLength="3.7" lengthAdjust="spacingAndGlyphs">7</text>
<line x1="49.55" y1="362.6" x2="49.55" y2="365.6" stroke="#000" stroke-width="0.9"/>
<text x="48.95" y="374.5" font-size="7" text-anchor="middle" fill="#111" stroke="#111" stroke-width="0.1" textLength="12.6" lengthAdjust="spacingAndGlyphs">−1.5</text>
<line x1="73.8" y1="362.6" x2="73.8" y2="365.6" stroke="#000" stroke-width="0.9"/>
<text x="73.2" y="374.5" font-size="7" text-anchor="middle" fill="#111" stroke="#111" stroke-width="0.1" textLength="6.4" lengthAdjust="spacingAndGlyphs">−1</text>
<line x1="98.05" y1="362.6" x2="98.05" y2="365.6" stroke="#000" stroke-width="0.9"/>
<text x="97.45" y="374.5" font-size="7" text-anchor="middle" fill="#111" stroke="#111" stroke-width="0.1" textLength="12.6" lengthAdjust="spacingAndGlyphs">−0.5</text>
<line x1="122.3" y1="362.6" x2="122.3" y2="365.6" stroke="#000" stroke-width="0.9"/>
<text x="122.3" y="374.5" font-size="7" text-anchor="middle" fill="#111" stroke="#111" stroke-width="0.1" textLength="9.2" lengthAdjust="spacingAndGlyphs">0.0</text>
<line x1="146.55" y1="362.6" x2="146.55" y2="365.6" stroke="#000" stroke-width="0.9"/>
<text x="146.55" y="374.5" font-size="7" text-anchor="middle" fill="#111" stroke="#111" stroke-width="0.1" textLength="9.2" lengthAdjust="spacingAndGlyphs">0.5</text>
<line x1="170.8" y1="362.6" x2="170.8" y2="365.6" stroke="#000" stroke-width="0.9"/>
<text x="170.8" y="374.5" font-size="7" text-anchor="middle" fill="#111" stroke="#111" stroke-width="0.1" textLength="9.2" lengthAdjust="spacingAndGlyphs">1.0</text>
<text x="110.5" y="385.6" font-size="8.8" text-anchor="middle" fill="#222" stroke="#222" stroke-width="0.1" textLength="61" lengthAdjust="spacingAndGlyphs">Log2(Fold change)</text>
<text transform="translate(23.2 307.8) rotate(-90)" x="0" y="0" font-size="8.6" text-anchor="middle" fill="#222" stroke="#222" stroke-width="0.1" textLength="56.5" lengthAdjust="spacingAndGlyphs">-Log10(p-values)</text>
<text x="257.1" y="230" font-size="10.2" font-weight="bold">D</text>
<rect x="408.6" y="249.6" width="82.4" height="5.7" fill="#0a30b0"/>
<line x1="404.6" y1="252.45" x2="408.4" y2="252.45" stroke="#000" stroke-width="0.9"/>
<text x="403" y="254.8" font-size="6.7" text-anchor="end" fill="#111" stroke="#111" stroke-width="0.08" textLength="130.2" lengthAdjust="spacingAndGlyphs">Cellular nitrogen compound metabolic process</text>
<rect x="408.6" y="257.45" width="82.4" height="5.7" fill="#0a30b0"/>
<line x1="404.6" y1="260.3" x2="408.4" y2="260.3" stroke="#000" stroke-width="0.9"/>
<text x="403" y="262.65" font-size="6.7" text-anchor="end" fill="#111" stroke="#111" stroke-width="0.08" textLength="123" lengthAdjust="spacingAndGlyphs">Organic cyclic compound metabolic process</text>
<rect x="408.6" y="265.3" width="81.2" height="5.7" fill="#0a30b0"/>
<line x1="404.6" y1="268.15" x2="408.4" y2="268.15" stroke="#000" stroke-width="0.9"/>
<text x="403" y="270.5" font-size="6.7" text-anchor="end" fill="#111" stroke="#111" stroke-width="0.08" textLength="85.3" lengthAdjust="spacingAndGlyphs">Heterocycle metabolic process</text>
<rect x="408.6" y="273.15" width="80.4" height="5.7" fill="#0a30b0"/>
<line x1="404.6" y1="276" x2="408.4" y2="276" stroke="#000" stroke-width="0.9"/>
<text x="403" y="278.35" font-size="6.7" text-anchor="end" fill="#111" stroke="#111" stroke-width="0.08" textLength="86.1" lengthAdjust="spacingAndGlyphs">Nucleic acid metabolic process</text>
<rect x="408.6" y="281" width="80.4" height="5.7" fill="#0a30b0"/>
<line x1="404.6" y1="283.85" x2="408.4" y2="283.85" stroke="#000" stroke-width="0.9"/>
<text x="403" y="286.2" font-size="6.7" text-anchor="end" fill="#111" stroke="#111" stroke-width="0.08" textLength="148.1" lengthAdjust="spacingAndGlyphs">Nucleobase-containing compound metabolic process</text>
<rect x="408.6" y="288.85" width="79.4" height="5.7" fill="#0a30b0"/>
<line x1="404.6" y1="291.7" x2="408.4" y2="291.7" stroke="#000" stroke-width="0.9"/>
<text x="403" y="294.05" font-size="6.7" text-anchor="end" fill="#111" stroke="#111" stroke-width="0.08" textLength="131.2" lengthAdjust="spacingAndGlyphs">Cellular aromatic compound metabolic process</text>
<rect x="408.6" y="296.7" width="74.4" height="5.7" fill="#0a30b0"/>
<line x1="404.6" y1="299.55" x2="408.4" y2="299.55" stroke="#000" stroke-width="0.9"/>
<text x="403" y="301.9" font-size="6.7" text-anchor="end" fill="#111" stroke="#111" stroke-width="0.08" textLength="44.8" lengthAdjust="spacingAndGlyphs">DNA replication</text>
<rect x="408.6" y="304.55" width="62.3" height="5.7" fill="#0a30b0"/>
<line x1="404.6" y1="307.4" x2="408.4" y2="307.4" stroke="#000" stroke-width="0.9"/>
<text x="403" y="309.75" font-size="6.7" text-anchor="end" fill="#111" stroke="#111" stroke-width="0.08" textLength="66.1" lengthAdjust="spacingAndGlyphs">DNA metabolic process</text>
<rect x="408.6" y="312.4" width="54.2" height="5.7" fill="#0a30b0"/>
<line x1="404.6" y1="315.25" x2="408.4" y2="315.25" stroke="#000" stroke-width="0.9"/>
<text x="403" y="317.6" font-size="6.7" text-anchor="end" fill="#111" stroke="#111" stroke-width="0.08" textLength="73.5" lengthAdjust="spacingAndGlyphs">Cellular metabolic process</text>
<rect x="408.6" y="320.25" width="47.9" height="5.7" fill="#0a30b0"/>
<line x1="404.6" y1="323.1" x2="408.4" y2="323.1" stroke="#000" stroke-width="0.9"/>
<text x="403" y="325.45" font-size="6.7" text-anchor="end" fill="#111" stroke="#111" stroke-width="0.08" textLength="93" lengthAdjust="spacingAndGlyphs">DNA-dependent DNA replication</text>
<rect x="408.6" y="328.1" width="45.2" height="5.7" fill="#0a30b0"/>
<line x1="404.6" y1="330.95" x2="408.4" y2="330.95" stroke="#000" stroke-width="0.9"/>
<text x="403" y="333.3" font-size="6.7" text-anchor="end" fill="#111" stroke="#111" stroke-width="0.08" textLength="95" lengthAdjust="spacingAndGlyphs">Macromolecule metabolic process</text>
<rect x="408.6" y="335.95" width="43.4" height="5.7" fill="#0a30b0"/>
<line x1="404.6" y1="338.8" x2="408.4" y2="338.8" stroke="#000" stroke-width="0.9"/>
<text x="403" y="341.15" font-size="6.7" text-anchor="end" fill="#111" stroke="#111" stroke-width="0.08" textLength="103.8" lengthAdjust="spacingAndGlyphs">Organic substance metabolic process</text>
<rect x="408.6" y="343.8" width="42.9" height="5.7" fill="#0a30b0"/>
<line x1="404.6" y1="346.65" x2="408.4" y2="346.65" stroke="#000" stroke-width="0.9"/>
<text x="403" y="349" font-size="6.7" text-anchor="end" fill="#111" stroke="#111" stroke-width="0.08" textLength="73" lengthAdjust="spacingAndGlyphs">Primary metabolic process</text>
<rect x="408.6" y="351.65" width="42.4" height="5.7" fill="#0a30b0"/>
<line x1="404.6" y1="354.5" x2="408.4" y2="354.5" stroke="#000" stroke-width="0.9"/>
<text x="403" y="356.85" font-size="6.7" text-anchor="end" fill="#111" stroke="#111" stroke-width="0.08" textLength="108.8" lengthAdjust="spacingAndGlyphs">Nitrogen compound metabolic process</text>
<rect x="408.6" y="359.5" width="40.8" height="5.7" fill="#0a30b0"/>
<line x1="404.6" y1="362.35" x2="408.4" y2="362.35" stroke="#000" stroke-width="0.9"/>
<text x="403" y="364.7" font-size="6.7" text-anchor="end" fill="#111" stroke="#111" stroke-width="0.08" textLength="50.2" lengthAdjust="spacingAndGlyphs">Metabolic process</text>
<rect x="408.6" y="367.35" width="40.8" height="5.7" fill="#0a30b0"/>
<line x1="404.6" y1="370.2" x2="408.4" y2="370.2" stroke="#000" stroke-width="0.9"/>
<text x="403" y="372.55" font-size="6.7" text-anchor="end" fill="#111" stroke="#111" stroke-width="0.08" textLength="74.1" lengthAdjust="spacingAndGlyphs">Chromosome organization</text>
<rect x="408.6" y="375.2" width="34.7" height="5.7" fill="#0a30b0"/>
<line x1="404.6" y1="378.05" x2="408.4" y2="378.05" stroke="#000" stroke-width="0.9"/>
<text x="403" y="380.4" font-size="6.7" text-anchor="end" fill="#111" stroke="#111" stroke-width="0.08" textLength="117.6" lengthAdjust="spacingAndGlyphs">Cellular macromolecule metabolic process</text>
<line x1="408.3" y1="248.5" x2="408.3" y2="382.6" stroke="#000" stroke-width="1.1"/>
<line x1="407.8" y1="382.1" x2="503" y2="382.1" stroke="#000" stroke-width="1.1"/>
<line x1="408.3" y1="382" x2="408.3" y2="385" stroke="#000" stroke-width="0.9"/>
<text x="408.3" y="392.4" font-size="6.6" text-anchor="middle" fill="#111" stroke="#111" stroke-width="0.1">0</text>
<line x1="439.7" y1="382" x2="439.7" y2="385" stroke="#000" stroke-width="0.9"/>
<text x="439.7" y="392.4" font-size="6.6" text-anchor="middle" fill="#111" stroke="#111" stroke-width="0.1">5</text>
<line x1="471.1" y1="382" x2="471.1" y2="385" stroke="#000" stroke-width="0.9"/>
<text x="471.1" y="392.4" font-size="6.6" text-anchor="middle" fill="#111" stroke="#111" stroke-width="0.1">10</text>
<line x1="502.5" y1="382" x2="502.5" y2="385" stroke="#000" stroke-width="0.9"/>
<text x="502.5" y="392.4" font-size="6.6" text-anchor="middle" fill="#111" stroke="#111" stroke-width="0.1">15</text>
<text x="411.5" y="403.3" font-size="8.6" fill="#111" stroke="#111" stroke-width="0.1" textLength="89" lengthAdjust="spacingAndGlyphs">-log10 (p-values adjusted)</text>
<text x="15.5" y="415.8" font-size="10" font-weight="bold">E</text>
<text x="29.8" y="444.3" font-size="6.3" fill="#222" stroke="#222" stroke-width="0.1">CYB561</text>
<text x="64.6" y="444.3" font-size="6.3" fill="#222" stroke="#222" stroke-width="0.1">−2.23</text>
<text x="29.8" y="453.39" font-size="6.3" fill="#222" stroke="#222" stroke-width="0.1">PMP22</text>
<text x="64.6" y="453.39" font-size="6.3" fill="#222" stroke="#222" stroke-width="0.1">−1.92</text>
<line x1="26.6" y1="446.49" x2="174.3" y2="446.49" stroke="#222" stroke-width="0.9"/>
<text x="29.8" y="462.48" font-size="6.3" fill="#222" stroke="#222" stroke-width="0.1">PREX1</text>
<text x="64.6" y="462.48" font-size="6.3" fill="#222" stroke="#222" stroke-width="0.1">−1.84</text>
<line x1="26.6" y1="455.58" x2="174.3" y2="455.58" stroke="#222" stroke-width="0.9"/>
<text x="29.8" y="471.57" font-size="6.3" fill="#222" stroke="#222" stroke-width="0.1">ASB1</text>
<text x="64.6" y="471.57" font-size="6.3" fill="#222" stroke="#222" stroke-width="0.1">−1.79</text>
<line x1="26.6" y1="464.67" x2="174.3" y2="464.67" stroke="#222" stroke-width="0.9"/>
<text x="29.8" y="480.67" font-size="6.3" fill="#222" stroke="#222" stroke-width="0.1">FAM171A1</text>
<text x="64.6" y="480.67" font-size="6.3" fill="#222" stroke="#222" stroke-width="0.1">−1.77</text>
<line x1="26.6" y1="473.77" x2="174.3" y2="473.77" stroke="#222" stroke-width="0.9"/>
<text x="29.8" y="489.76" font-size="6.3" fill="#222" stroke="#222" stroke-width="0.1">LAMB3</text>
<text x="64.6" y="489.76" font-size="6.3" fill="#222" stroke="#222" stroke-width="0.1">−1.74</text>
<line x1="26.6" y1="482.86" x2="174.3" y2="482.86" stroke="#222" stroke-width="0.9"/>
<text x="29.8" y="498.85" font-size="6.3" fill="#222" stroke="#222" stroke-width="0.1">RNF130</text>
<text x="64.6" y="498.85" font-size="6.3" fill="#222" stroke="#222" stroke-width="0.1">−1.72</text>
<line x1="26.6" y1="491.95" x2="174.3" y2="491.95" stroke="#222" stroke-width="0.9"/>
<text x="29.8" y="507.94" font-size="6.3" fill="#222" stroke="#222" stroke-width="0.1">TLR1</text>
<text x="64.6" y="507.94" font-size="6.3" fill="#222" stroke="#222" stroke-width="0.1">−1.67</text>
<line x1="26.6" y1="501.04" x2="174.3" y2="501.04" stroke="#222" stroke-width="0.9"/>
<rect x="88.9" y="511.23" width="34.6" height="6.89" fill="#b8c8d2"/>
<text x="29.8" y="517.03" font-size="6.3" fill="#222" stroke="#222" stroke-width="0.1">CLSPN</text>
<text x="64.6" y="517.03" font-size="6.3" fill="#222" stroke="#222" stroke-width="0.1">−1.63</text>
<line x1="26.6" y1="510.13" x2="174.3" y2="510.13" stroke="#222" stroke-width="0.9"/>
<rect x="88.9" y="520.32" width="34.6" height="6.89" fill="#b8c8d2"/>
<text x="29.8" y="526.12" font-size="6.3" fill="#222" stroke="#222" stroke-width="0.1">CDT1</text>
<text x="64.6" y="526.12" font-size="6.3" fill="#222" stroke="#222" stroke-width="0.1">−1.62</text>
<line x1="26.6" y1="519.22" x2="174.3" y2="519.22" stroke="#222" stroke-width="0.9"/>
<text x="29.8" y="535.21" font-size="6.3" fill="#222" stroke="#222" stroke-width="0.1">RNF144A</text>
<text x="64.6" y="535.21" font-size="6.3" fill="#222" stroke="#222" stroke-width="0.1">−1.61</text>
<line x1="26.6" y1="528.31" x2="174.3" y2="528.31" stroke="#222" stroke-width="0.9"/>
<text x="29.8" y="544.3" font-size="6.3" fill="#222" stroke="#222" stroke-width="0.1">PM20D2</text>
<text x="64.6" y="544.3" font-size="6.3" fill="#222" stroke="#222" stroke-width="0.1">−1.60</text>
<line x1="26.6" y1="537.4" x2="174.3" y2="537.4" stroke="#222" stroke-width="0.9"/>
<text x="29.8" y="553.4" font-size="6.3" fill="#222" stroke="#222" stroke-width="0.1">SASH3</text>
<text x="64.6" y="553.4" font-size="6.3" fill="#222" stroke="#222" stroke-width="0.1">−1.56</text>
<line x1="26.6" y1="546.5" x2="174.3" y2="546.5" stroke="#222" stroke-width="0.9"/>
<rect x="125.9" y="556.69" width="47.2" height="6.89" fill="#b8c8d2"/>
<text x="29.8" y="562.49" font-size="6.3" fill="#222" stroke="#222" stroke-width="0.1">EZH2</text>
<text x="64.6" y="562.49" font-size="6.3" fill="#222" stroke="#222" stroke-width="0.1">−1.56</text>
<line x1="26.6" y1="555.59" x2="174.3" y2="555.59" stroke="#222" stroke-width="0.9"/>
<rect x="125.9" y="565.78" width="47.2" height="6.89" fill="#b8c8d2"/>
<text x="29.8" y="571.58" font-size="6.3" fill="#222" stroke="#222" stroke-width="0.1">UHRF1</text>
<text x="64.6" y="571.58" font-size="6.3" fill="#222" stroke="#222" stroke-width="0.1">−1.54</text>
<line x1="26.6" y1="564.68" x2="174.3" y2="564.68" stroke="#222" stroke-width="0.9"/>
<text x="29.8" y="580.67" font-size="6.3" fill="#222" stroke="#222" stroke-width="0.1">SAMD13</text>
<text x="64.6" y="580.67" font-size="6.3" fill="#222" stroke="#222" stroke-width="0.1">−1.55</text>
<line x1="26.6" y1="573.77" x2="174.3" y2="573.77" stroke="#222" stroke-width="0.9"/>
<rect x="125.9" y="583.96" width="47.2" height="6.89" fill="#b8c8d2"/>
<text x="29.8" y="589.76" font-size="6.3" fill="#222" stroke="#222" stroke-width="0.1">UNG</text>
<text x="64.6" y="589.76" font-size="6.3" fill="#222" stroke="#222" stroke-width="0.1">−1.54</text>
<line x1="26.6" y1="582.86" x2="174.3" y2="582.86" stroke="#222" stroke-width="0.9"/>
<rect x="88.9" y="593.05" width="34.6" height="6.89" fill="#b8c8d2"/>
<rect x="125.9" y="593.05" width="47.2" height="6.89" fill="#b8c8d2"/>
<text x="29.8" y="598.85" font-size="6.3" fill="#222" stroke="#222" stroke-width="0.1">MCM3</text>
<text x="64.6" y="598.85" font-size="6.3" fill="#222" stroke="#222" stroke-width="0.1">−1.54</text>
<line x1="26.6" y1="591.95" x2="174.3" y2="591.95" stroke="#222" stroke-width="0.9"/>
<text x="29.8" y="607.94" font-size="6.3" fill="#222" stroke="#222" stroke-width="0.1">RHOH</text>
<text x="64.6" y="607.94" font-size="6.3" fill="#222" stroke="#222" stroke-width="0.1">−1.54</text>
<line x1="26.6" y1="601.04" x2="174.3" y2="601.04" stroke="#222" stroke-width="0.9"/>
<rect x="88.9" y="611.23" width="34.6" height="6.89" fill="#b8c8d2"/>
<rect x="125.9" y="611.23" width="47.2" height="6.89" fill="#b8c8d2"/>
<text x="29.8" y="617.03" font-size="6.3" fill="#222" stroke="#222" stroke-width="0.1">MCM7</text>
<text x="64.6" y="617.03" font-size="6.3" fill="#222" stroke="#222" stroke-width="0.1">−1.52</text>
<line x1="26.6" y1="610.13" x2="174.3" y2="610.13" stroke="#222" stroke-width="0.9"/>
<rect x="88.9" y="620.33" width="34.6" height="6.89" fill="#b8c8d2"/>
<rect x="125.9" y="620.33" width="47.2" height="6.89" fill="#b8c8d2"/>
<text x="29.8" y="626.13" font-size="6.3" fill="#222" stroke="#222" stroke-width="0.1">MCM2</text>
<text x="64.6" y="626.13" font-size="6.3" fill="#222" stroke="#222" stroke-width="0.1">−1.52</text>
<line x1="26.6" y1="619.23" x2="174.3" y2="619.23" stroke="#222" stroke-width="0.9"/>
<rect x="88.9" y="629.42" width="34.6" height="6.89" fill="#b8c8d2"/>
<rect x="125.9" y="629.42" width="47.2" height="6.89" fill="#b8c8d2"/>
<text x="29.8" y="635.22" font-size="6.3" fill="#222" stroke="#222" stroke-width="0.1">NASP</text>
<text x="64.6" y="635.22" font-size="6.3" fill="#222" stroke="#222" stroke-width="0.1">−1.51</text>
<line x1="26.6" y1="628.32" x2="174.3" y2="628.32" stroke="#222" stroke-width="0.9"/>
<text x="29.8" y="644.31" font-size="6.3" fill="#222" stroke="#222" stroke-width="0.1">LDLRAD3</text>
<text x="64.6" y="644.31" font-size="6.3" fill="#222" stroke="#222" stroke-width="0.1">−1.50</text>
<line x1="26.6" y1="637.41" x2="174.3" y2="637.41" stroke="#222" stroke-width="0.9"/>
<line x1="26.6" y1="437.4" x2="174.3" y2="437.4" stroke="#111" stroke-width="1.2"/>
<line x1="62.6" y1="421" x2="62.6" y2="646.5" stroke="#222" stroke-width="1"/>
<line x1="87.7" y1="421" x2="87.7" y2="646.5" stroke="#222" stroke-width="1"/>
<line x1="124.7" y1="421" x2="124.7" y2="646.5" stroke="#222" stroke-width="1"/>
<rect x="26.6" y="421" width="147.7" height="225.5" fill="none" stroke="#111" stroke-width="1.3"/>
<text x="29.5" y="430.8" font-size="6.3" font-weight="bold" fill="#222" textLength="21.5" lengthAdjust="spacingAndGlyphs">Symbol</text>
<text x="64.8" y="429.2" font-size="6.3" font-weight="bold" fill="#222" textLength="12.2" lengthAdjust="spacingAndGlyphs">Fold</text>
<text x="64.8" y="435.7" font-size="6.3" font-weight="bold" fill="#222" textLength="21.4" lengthAdjust="spacingAndGlyphs">change</text>
<text x="91.2" y="429.2" font-size="6.3" font-weight="bold" fill="#222">DNA</text>
<text x="91.2" y="435.7" font-size="6.3" font-weight="bold" fill="#222" textLength="30.5" lengthAdjust="spacingAndGlyphs">replication</text>
<text x="127.2" y="429.2" font-size="6.3" font-weight="bold" fill="#222" textLength="45" lengthAdjust="spacingAndGlyphs">DNA metabolic</text>
<text x="127.2" y="435.7" font-size="6.3" font-weight="bold" fill="#222" textLength="19" lengthAdjust="spacingAndGlyphs">process</text>
<text x="201.5" y="418.8" font-size="10" font-weight="bold">F</text>
<text x="218.8" y="430.4" font-size="7.4" font-weight="bold" fill="#2a50c0" textLength="31.2" lengthAdjust="spacingAndGlyphs">CTL/shCTL</text>
<text x="281" y="430" font-size="7.4" font-weight="bold" fill="#d01830" textLength="49" lengthAdjust="spacingAndGlyphs">GSK343/shEZH2</text>
<text x="225.2" y="438.5" font-size="6.7" font-weight="bold" fill="#111" textLength="106.6" lengthAdjust="spacingAndGlyphs">Enrichment plot: PID_ATM_Pathway</text>
<line x1="226.4" y1="482" x2="230.4" y2="482" stroke="#000" stroke-width="0.9"/>
<text x="225.2" y="483.9" font-size="5.5" text-anchor="end" stroke="#000" stroke-width="0.18">0.0</text>
<line x1="226.4" y1="475.67" x2="230.4" y2="475.67" stroke="#000" stroke-width="0.9"/>
<text x="225.2" y="477.57" font-size="5.5" text-anchor="end" stroke="#000" stroke-width="0.18">0.1</text>
<line x1="226.4" y1="469.33" x2="230.4" y2="469.33" stroke="#000" stroke-width="0.9"/>
<text x="225.2" y="471.23" font-size="5.5" text-anchor="end" stroke="#000" stroke-width="0.18">0.2</text>
<line x1="226.4" y1="463" x2="230.4" y2="463" stroke="#000" stroke-width="0.9"/>
<text x="225.2" y="464.9" font-size="5.5" text-anchor="end" stroke="#000" stroke-width="0.18">0.3</text>
<line x1="226.4" y1="456.67" x2="230.4" y2="456.67" stroke="#000" stroke-width="0.9"/>
<text x="225.2" y="458.57" font-size="5.5" text-anchor="end" stroke="#000" stroke-width="0.18">0.4</text>
<line x1="226.4" y1="450.33" x2="230.4" y2="450.33" stroke="#000" stroke-width="0.9"/>
<text x="225.2" y="452.23" font-size="5.5" text-anchor="end" stroke="#000" stroke-width="0.18">0.5</text>
<line x1="226.4" y1="444" x2="230.4" y2="444" stroke="#000" stroke-width="0.9"/>
<text x="225.2" y="445.9" font-size="5.5" text-anchor="end" stroke="#000" stroke-width="0.18">0.6</text>
<rect x="230.4" y="481.8" width="96.8" height="2" fill="#c8d4d8"/>
<line x1="230.4" y1="481.8" x2="327.2" y2="481.8" stroke="#8fa0a8" stroke-width="0.6"/>
<line x1="230.4" y1="483.9" x2="327.2" y2="483.9" stroke="#8fa0a8" stroke-width="0.6"/>
<rect x="231.2" y="484.1" width="0.7" height="14.6" fill="#8a9898"/>
<rect x="232.2" y="484.1" width="0.7" height="14.6" fill="#b8c4c4"/>
<rect x="233.2" y="484.1" width="0.7" height="14.6" fill="#8a9898"/>
<rect x="234.4" y="484.1" width="0.7" height="14.6" fill="#b8c4c4"/>
<rect x="235.4" y="484.1" width="0.7" height="14.6" fill="#8a9898"/>
<rect x="236.6" y="484.1" width="0.7" height="14.6" fill="#505858"/>
<rect x="238.6" y="484.1" width="0.7" height="14.6" fill="#505858"/>
<rect x="240.5" y="484.1" width="0.7" height="14.6" fill="#b8c4c4"/>
<rect x="241.6" y="484.1" width="0.7" height="14.6" fill="#8a9898"/>
<rect x="243.7" y="484.1" width="0.7" height="14.6" fill="#8a9898"/>
<rect x="246.6" y="484.1" width="0.7" height="14.6" fill="#8a9898"/>
<rect x="249.6" y="484.1" width="0.7" height="14.6" fill="#505858"/>
<rect x="250.6" y="484.1" width="0.7" height="14.6" fill="#1a1a1a"/>
<rect x="251.5" y="484.1" width="0.7" height="14.6" fill="#8a9898"/>
<rect x="254.5" y="484.1" width="0.7" height="14.6" fill="#8a9898"/>
<rect x="256.4" y="484.1" width="0.7" height="14.6" fill="#8a9898"/>
<rect x="260.4" y="484.1" width="0.7" height="14.6" fill="#8a9898"/>
<rect x="261.4" y="484.1" width="0.7" height="14.6" fill="#505858"/>
<rect x="262.3" y="484.1" width="0.7" height="14.6" fill="#8a9898"/>
<rect x="265.3" y="484.1" width="0.7" height="14.6" fill="#8a9898"/>
<rect x="267.2" y="484.1" width="0.7" height="14.6" fill="#b8c4c4"/>
<rect x="274" y="484.1" width="0.7" height="14.6" fill="#8a9898"/>
<rect x="279.4" y="484.1" width="0.7" height="14.6" fill="#8a9898"/>
<rect x="283.9" y="484.1" width="0.7" height="14.6" fill="#8a9898"/>
<rect x="285.8" y="484.1" width="0.7" height="14.6" fill="#b8c4c4"/>
<rect x="289.8" y="484.1" width="0.7" height="14.6" fill="#8a9898"/>
<rect x="306.4" y="484.1" width="0.7" height="14.6" fill="#8a9898"/>
<rect x="231" y="499.6" width="16.6" height="2.5" fill="#e8304c"/>
<rect x="247.6" y="499.6" width="8.8" height="2.5" fill="#e85090"/>
<rect x="256.4" y="499.6" width="9.8" height="2.5" fill="#ea70a8"/>
<rect x="266.2" y="499.6" width="11.8" height="2.5" fill="#f0a8e4"/>
<rect x="278" y="499.6" width="10.8" height="2.5" fill="#d8cef2"/>
<rect x="288.8" y="499.6" width="8.8" height="2.5" fill="#c8c8ee"/>
<rect x="297.6" y="499.6" width="7.9" height="2.5" fill="#98a0e8"/>
<rect x="305.5" y="499.6" width="14.7" height="2.5" fill="#4a5ae4"/>
<rect x="320.2" y="499.6" width="1.5" height="2.5" fill="#1428e0"/>
<line x1="230.4" y1="499.2" x2="327.2" y2="499.2" stroke="#a8b8c0" stroke-width="0.5"/>
<line x1="230.4" y1="502.5" x2="327.2" y2="502.5" stroke="#a8b8c0" stroke-width="0.5"/>
<text x="231.5" y="506.2" font-size="3.4" fill="#d02040" textLength="47" lengthAdjust="spacingAndGlyphs">‘CTL’ (positively correlated)</text>
<path d="M230.9 482.1 L231.9 476.2 L233.9 471.3 L235.5 467.4 L236.8 461.5 L237.8 455.6 L238.8 449.8 L240.2 446.8 L241.7 445.5 L243.7 446.2 L245.6 445.5 L247.2 446.8 L248.6 445.5 L250.5 444.3 L252.5 443.5 L254.5 444.3 L256.4 443.9 L258.4 445.5 L260.4 445.8 L262.3 446.2 L265.3 446.8 L267.2 447.8 L277 453.7 L286.8 460.5 L290.7 462.5 L296.6 466.4 L305.5 472.3 L306.4 471.3 L308.4 473.3 L322.1 482.1" fill="none" stroke="#44e010" stroke-width="1.3" stroke-linejoin="round"/>
<rect x="230.4" y="441" width="96.8" height="67" fill="none" stroke="#111" stroke-width="1.2"/>
<text x="291.5" y="448.5" font-size="6.4" stroke="#000" stroke-width="0.14" textLength="29.3" lengthAdjust="spacingAndGlyphs">NSE=1.62</text>
<text x="291.5" y="455" font-size="6.4" stroke="#000" stroke-width="0.14" textLength="32.5" lengthAdjust="spacingAndGlyphs">FDR=0.065</text>
<text transform="translate(210.8 462.3) rotate(-90)" x="0" y="0" font-size="8.2" text-anchor="middle" fill="#222" stroke="#222" stroke-width="0.1" textLength="67" lengthAdjust="spacingAndGlyphs">Enrichment score (ES)</text>
<text x="370.4" y="430.4" font-size="7.4" font-weight="bold" fill="#2a50c0" textLength="30.6" lengthAdjust="spacingAndGlyphs">CTL/shCTL</text>
<text x="432.8" y="430.8" font-size="7.4" font-weight="bold" fill="#d01830" textLength="48.7" lengthAdjust="spacingAndGlyphs">GSK343/shEZH2</text>
<text x="370.4" y="438.7" font-size="6.7" font-weight="bold" fill="#111" textLength="122.4" lengthAdjust="spacingAndGlyphs">Enrichment plot: KEGG_DNA_Replication</text>
<line x1="377.8" y1="482.3" x2="381.8" y2="482.3" stroke="#000" stroke-width="0.9"/>
<text x="376.6" y="484.2" font-size="5.5" text-anchor="end" stroke="#000" stroke-width="0.18">0.0</text>
<line x1="377.8" y1="476.8" x2="381.8" y2="476.8" stroke="#000" stroke-width="0.9"/>
<text x="376.6" y="478.7" font-size="5.5" text-anchor="end" stroke="#000" stroke-width="0.18">0.1</text>
<line x1="377.8" y1="471.3" x2="381.8" y2="471.3" stroke="#000" stroke-width="0.9"/>
<text x="376.6" y="473.2" font-size="5.5" text-anchor="end" stroke="#000" stroke-width="0.18">0.2</text>
<line x1="377.8" y1="465.8" x2="381.8" y2="465.8" stroke="#000" stroke-width="0.9"/>
<text x="376.6" y="467.7" font-size="5.5" text-anchor="end" stroke="#000" stroke-width="0.18">0.3</text>
<line x1="377.8" y1="460.3" x2="381.8" y2="460.3" stroke="#000" stroke-width="0.9"/>
<text x="376.6" y="462.2" font-size="5.5" text-anchor="end" stroke="#000" stroke-width="0.18">0.4</text>
<line x1="377.8" y1="454.8" x2="381.8" y2="454.8" stroke="#000" stroke-width="0.9"/>
<text x="376.6" y="456.7" font-size="5.5" text-anchor="end" stroke="#000" stroke-width="0.18">0.5</text>
<line x1="377.8" y1="449.3" x2="381.8" y2="449.3" stroke="#000" stroke-width="0.9"/>
<text x="376.6" y="451.2" font-size="5.5" text-anchor="end" stroke="#000" stroke-width="0.18">0.6</text>
<line x1="377.8" y1="443.8" x2="381.8" y2="443.8" stroke="#000" stroke-width="0.9"/>
<text x="376.6" y="445.7" font-size="5.5" text-anchor="end" stroke="#000" stroke-width="0.18">0.7</text>
<rect x="381.8" y="482.1" width="96.7" height="2" fill="#c8d4d8"/>
<line x1="381.8" y1="482.1" x2="478.5" y2="482.1" stroke="#8fa0a8" stroke-width="0.6"/>
<line x1="381.8" y1="484.2" x2="478.5" y2="484.2" stroke="#8fa0a8" stroke-width="0.6"/>
<rect x="382.6" y="484.4" width="0.7" height="14.3" fill="#505858"/>
<rect x="383.4" y="484.4" width="0.7" height="14.3" fill="#1a1a1a"/>
<rect x="384.2" y="484.4" width="0.7" height="14.3" fill="#1a1a1a"/>
<rect x="385.2" y="484.4" width="0.7" height="14.3" fill="#505858"/>
<rect x="386.2" y="484.4" width="0.7" height="14.3" fill="#1a1a1a"/>
<rect x="387.4" y="484.4" width="0.7" height="14.3" fill="#8a9898"/>
<rect x="388.4" y="484.4" width="0.7" height="14.3" fill="#505858"/>
<rect x="390" y="484.4" width="0.7" height="14.3" fill="#8a9898"/>
<rect x="391.5" y="484.4" width="0.7" height="14.3" fill="#b8c4c4"/>
<rect x="393" y="484.4" width="0.7" height="14.3" fill="#8a9898"/>
<rect x="395.5" y="484.4" width="0.7" height="14.3" fill="#8a9898"/>
<rect x="398" y="484.4" width="0.7" height="14.3" fill="#b8c4c4"/>
<rect x="400" y="484.4" width="0.7" height="14.3" fill="#8a9898"/>
<rect x="402.2" y="484.4" width="0.7" height="14.3" fill="#8a9898"/>
<rect x="404" y="484.4" width="0.7" height="14.3" fill="#505858"/>
<rect x="405.2" y="484.4" width="0.7" height="14.3" fill="#8a9898"/>
<rect x="406.5" y="484.4" width="0.7" height="14.3" fill="#505858"/>
<rect x="407.8" y="484.4" width="0.7" height="14.3" fill="#8a9898"/>
<rect x="409.2" y="484.4" width="0.7" height="14.3" fill="#505858"/>
<rect x="452" y="484.4" width="0.7" height="14.3" fill="#8a9898"/>
<rect x="381.9" y="499.6" width="18.1" height="2.6" fill="#e8304c"/>
<rect x="400" y="499.6" width="8.4" height="2.6" fill="#e85090"/>
<rect x="408.4" y="499.6" width="9.8" height="2.6" fill="#ea70a8"/>
<rect x="418.2" y="499.6" width="11.2" height="2.6" fill="#f0a8e4"/>
<rect x="429.4" y="499.6" width="11.3" height="2.6" fill="#d8cef2"/>
<rect x="440.7" y="499.6" width="8.9" height="2.6" fill="#c8c8ee"/>
<rect x="449.6" y="499.6" width="6.8" height="2.6" fill="#98a0e8"/>
<rect x="456.4" y="499.6" width="13.8" height="2.6" fill="#4a5ae4"/>
<rect x="470.2" y="499.6" width="2.9" height="2.6" fill="#1428e0"/>
<line x1="381.8" y1="499.2" x2="478.5" y2="499.2" stroke="#a8b8c0" stroke-width="0.5"/>
<line x1="381.8" y1="502.6" x2="478.5" y2="502.6" stroke="#a8b8c0" stroke-width="0.5"/>
<text x="382.8" y="506.4" font-size="3.4" fill="#d02040" textLength="47" lengthAdjust="spacingAndGlyphs">‘CTL’ (positively correlated)</text>
<path d="M381.9 482.1 L383.5 477.2 L384.9 467.4 L385.8 459.6 L386.8 453.7 L388.2 447.8 L389.8 446.2 L391.7 443.9 L393.3 443.5 L395.6 444.9 L397.6 445.5 L399.6 446.2 L401.5 445.5 L404.5 446.2 L406.4 445.8 L408.4 444.9 L409.8 445.5 L417.2 450.2 L436.8 460.5 L450.5 469.4 L453.5 470.4 L472.1 482.1" fill="none" stroke="#44e010" stroke-width="1.3" stroke-linejoin="round"/>
<rect x="381.8" y="441.3" width="96.7" height="67" fill="none" stroke="#111" stroke-width="1.2"/>
<text x="441" y="449.6" font-size="6.4" stroke="#000" stroke-width="0.14" textLength="29.8" lengthAdjust="spacingAndGlyphs">NSE=1.58</text>
<text x="441" y="456.2" font-size="6.4" stroke="#000" stroke-width="0.14" textLength="32.8" lengthAdjust="spacingAndGlyphs">FDR=0.096</text>
<text transform="translate(362.6 462.3) rotate(-90)" x="0" y="0" font-size="8.2" text-anchor="middle" fill="#222" stroke="#222" stroke-width="0.1" textLength="67" lengthAdjust="spacingAndGlyphs">Enrichment score (ES)</text>
<text x="293" y="540.4" font-size="7.4" font-weight="bold" fill="#2a50c0" textLength="30.8" lengthAdjust="spacingAndGlyphs">CTL/shCTL</text>
<text x="355.4" y="541" font-size="7.4" font-weight="bold" fill="#d01830" textLength="48.8" lengthAdjust="spacingAndGlyphs">GSK343/shEZH2</text>
<text x="293" y="549" font-size="6.7" font-weight="bold" fill="#111" textLength="114.7" lengthAdjust="spacingAndGlyphs">Enrichment plot: PID_Fanconi_Pathway</text>
<line x1="300.2" y1="592" x2="304.2" y2="592" stroke="#000" stroke-width="0.9"/>
<text x="299" y="593.9" font-size="5.5" text-anchor="end" stroke="#000" stroke-width="0.18">0.0</text>
<line x1="300.2" y1="586.57" x2="304.2" y2="586.57" stroke="#000" stroke-width="0.9"/>
<text x="299" y="588.47" font-size="5.5" text-anchor="end" stroke="#000" stroke-width="0.18">0.1</text>
<line x1="300.2" y1="581.14" x2="304.2" y2="581.14" stroke="#000" stroke-width="0.9"/>
<text x="299" y="583.04" font-size="5.5" text-anchor="end" stroke="#000" stroke-width="0.18">0.2</text>
<line x1="300.2" y1="575.71" x2="304.2" y2="575.71" stroke="#000" stroke-width="0.9"/>
<text x="299" y="577.61" font-size="5.5" text-anchor="end" stroke="#000" stroke-width="0.18">0.3</text>
<line x1="300.2" y1="570.29" x2="304.2" y2="570.29" stroke="#000" stroke-width="0.9"/>
<text x="299" y="572.19" font-size="5.5" text-anchor="end" stroke="#000" stroke-width="0.18">0.4</text>
<line x1="300.2" y1="564.86" x2="304.2" y2="564.86" stroke="#000" stroke-width="0.9"/>
<text x="299" y="566.76" font-size="5.5" text-anchor="end" stroke="#000" stroke-width="0.18">0.5</text>
<line x1="300.2" y1="559.43" x2="304.2" y2="559.43" stroke="#000" stroke-width="0.9"/>
<text x="299" y="561.33" font-size="5.5" text-anchor="end" stroke="#000" stroke-width="0.18">0.6</text>
<line x1="300.2" y1="554" x2="304.2" y2="554" stroke="#000" stroke-width="0.9"/>
<text x="299" y="555.9" font-size="5.5" text-anchor="end" stroke="#000" stroke-width="0.18">0.7</text>
<rect x="304.2" y="591.8" width="96.2" height="2" fill="#c8d4d8"/>
<line x1="304.2" y1="591.8" x2="400.4" y2="591.8" stroke="#8fa0a8" stroke-width="0.6"/>
<line x1="304.2" y1="593.9" x2="400.4" y2="593.9" stroke="#8fa0a8" stroke-width="0.6"/>
<rect x="304.8" y="594.1" width="0.7" height="14.8" fill="#8a9898"/>
<rect x="305.6" y="594.1" width="0.7" height="14.8" fill="#1a1a1a"/>
<rect x="306.6" y="594.1" width="0.7" height="14.8" fill="#505858"/>
<rect x="307.4" y="594.1" width="0.7" height="14.8" fill="#8a9898"/>
<rect x="308.5" y="594.1" width="0.7" height="14.8" fill="#1a1a1a"/>
<rect x="309.5" y="594.1" width="0.7" height="14.8" fill="#8a9898"/>
<rect x="310.5" y="594.1" width="0.7" height="14.8" fill="#b8c4c4"/>
<rect x="311.7" y="594.1" width="0.7" height="14.8" fill="#8a9898"/>
<rect x="313" y="594.1" width="0.7" height="14.8" fill="#b8c4c4"/>
<rect x="314.2" y="594.1" width="0.7" height="14.8" fill="#8a9898"/>
<rect x="315.4" y="594.1" width="0.7" height="14.8" fill="#8a9898"/>
<rect x="316.8" y="594.1" width="0.7" height="14.8" fill="#505858"/>
<rect x="317.8" y="594.1" width="0.7" height="14.8" fill="#8a9898"/>
<rect x="318.8" y="594.1" width="0.7" height="14.8" fill="#8a9898"/>
<rect x="321.5" y="594.1" width="0.7" height="14.8" fill="#8a9898"/>
<rect x="324.6" y="594.1" width="0.7" height="14.8" fill="#8a9898"/>
<rect x="336.3" y="594.1" width="0.7" height="14.8" fill="#8a9898"/>
<rect x="338.3" y="594.1" width="0.7" height="14.8" fill="#b8c4c4"/>
<rect x="352.9" y="594.1" width="0.7" height="14.8" fill="#8a9898"/>
<rect x="363.6" y="594.1" width="0.7" height="14.8" fill="#b8c4c4"/>
<rect x="384.2" y="594.1" width="0.7" height="14.8" fill="#8a9898"/>
<rect x="390.8" y="594.1" width="0.7" height="14.8" fill="#8a9898"/>
<rect x="304.3" y="609.8" width="17.7" height="2.7" fill="#e8304c"/>
<rect x="322" y="609.8" width="8.4" height="2.7" fill="#e85090"/>
<rect x="330.4" y="609.8" width="9.8" height="2.7" fill="#ea70a8"/>
<rect x="340.2" y="609.8" width="11.2" height="2.7" fill="#f0a8e4"/>
<rect x="351.4" y="609.8" width="11.3" height="2.7" fill="#d8cef2"/>
<rect x="362.7" y="609.8" width="9.8" height="2.7" fill="#c8c8ee"/>
<rect x="372.5" y="609.8" width="6.9" height="2.7" fill="#98a0e8"/>
<rect x="379.4" y="609.8" width="14.3" height="2.7" fill="#4a5ae4"/>
<rect x="393.7" y="609.8" width="2.4" height="2.7" fill="#1428e0"/>
<line x1="304.2" y1="609.4" x2="400.4" y2="609.4" stroke="#a8b8c0" stroke-width="0.5"/>
<line x1="304.2" y1="612.9" x2="400.4" y2="612.9" stroke="#a8b8c0" stroke-width="0.5"/>
<text x="278.7" y="616.4" font-size="3.4" fill="#d02040" textLength="49" lengthAdjust="spacingAndGlyphs">‘CTL’ (positively correlated)</text>
<path d="M304.3 592.7 L305.5 585.3 L306.9 579.4 L308.2 571.5 L308.8 566.6 L310.2 564.7 L311.4 559.8 L312.7 556.8 L314.1 554.9 L315.7 555.5 L317.6 553.9 L319.6 554.9 L322 555.5 L324.5 554.5 L326.5 555.5 L329.4 557.4 L333.3 559.4 L338.2 561.3 L349 567.6 L364.7 576.4 L382.4 586.2 L387.3 588.2 L390.2 589.2 L391.2 589.6 L392.2 590.2 L396.1 592.1" fill="none" stroke="#44e010" stroke-width="1.3" stroke-linejoin="round"/>
<rect x="304.2" y="551.3" width="96.2" height="67" fill="none" stroke="#111" stroke-width="1.2"/>
<text x="363.8" y="558.8" font-size="6.4" stroke="#000" stroke-width="0.14" textLength="28.9" lengthAdjust="spacingAndGlyphs">NSE=1.66</text>
<text x="363.8" y="566.2" font-size="6.4" stroke="#000" stroke-width="0.14" textLength="33.2" lengthAdjust="spacingAndGlyphs">FDR=0.059</text>
<text transform="translate(285 572.5) rotate(-90)" x="0" y="0" font-size="8.2" text-anchor="middle" fill="#222" stroke="#222" stroke-width="0.1" textLength="67" lengthAdjust="spacingAndGlyphs">Enrichment score (ES)</text>
<line x1="279" y1="612.6" x2="304.2" y2="612.6" stroke="#a8c0d0" stroke-width="0.6"/>
</svg>
</body></html>
